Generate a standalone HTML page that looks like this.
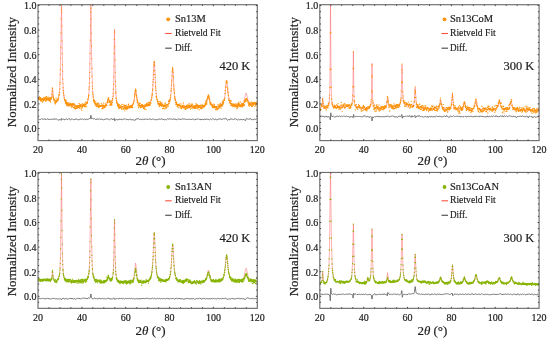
<!DOCTYPE html><html><head><meta charset="utf-8"><style>html,body{margin:0;padding:0;background:#fff;}svg{display:block;}text{font-family:"Liberation Serif",serif;fill:#1e1e1e;stroke:#1e1e1e;stroke-width:0.2px;}</style></head><body>
<svg width="550" height="341" viewBox="0 0 550 341">
<rect width="550" height="341" fill="#fff"/>
<clipPath id="c0"><rect x="38.0" y="4.7" width="219.3" height="135.9"/></clipPath>
<g clip-path="url(#c0)">
<g fill="none" stroke="#ff4a4a" stroke-opacity="0.42" stroke-width="1"><path d="M38 98.4l7.4 .6 3.6 0 1.1 .3"/><path d="M50.1 99.3l.7-.2 .6-.8 .3-1.5 .8-8.8"/><path d="M52.5 88l.7 9.2 .4 1.8 .5 1.2 .5 .6 .7 .3 .7 .1"/><path d="M56 101.2l.5-.2 1.2-1.4 .9-2.3 .5-2.9 .5-4.2 .6-12.9 1.3-71.8"/><path d="M61.5 5.5l1.2 72.9 .7 13.3 .5 4.1 .6 3.1 1.1 2.9 .8 1 1 .9 2.9 1.3 4.8 1.1"/><path d="M75.1 106.1l4.8 0 3.5-.5 2.1-1 1.4-1.6 .9-2.4 .7-3.5 .5-5.3 .4-7.3 .5-20.5 1-58.5"/><path d="M90.9 5.5l.9 61.9 .8 22 .5 6.9 .8 4.3 1.1 2.7 .7 1 1 .7 1.8 .7 2.7 .4"/><path d="M101.2 106.1l2.5 0 1.7-.5 .8-.7 .7-1.1 1.2-4.8 .3-.6"/><path d="M108.4 98.4l.3 .5 1 3.7 .7 1.1 .5 .1"/><path d="M110.9 103.8l.6-.4 .4-.8 .4-1.3 .8-5.7 .5-10.2 .9-55.6"/><path d="M114.5 29.8l.8 47.9 .6 16.6 .4 5.2 .7 3.3 .9 2 1.4 1.2 1.2 .5 1.7 .3 4.2 .2"/><path d="M126.4 107l3.7-.6 1.2-.5 .9-.6 1-1.6 .7-2.4 1.4-10.5 .3-1.2"/><path d="M135.6 89.6l.3 1.1 1.4 10.4 .7 2.3 .9 1.5 .9 .6 1.3 .4 3.8 .1"/><path d="M144.9 106l2.9-.7 1-.6 .9-.9 .8-1.4 .7-1.9 1-6 .7-9.4 1-20.1 .3-2.9"/><path d="M154.2 62.1l.4 3.6 1.1 22.6 .9 8.9 .7 3.3 .8 2.3 1.1 1.5 1.6 1 1.4 .4 1.6 .1"/><path d="M163.8 105.8l1.5-.2 1.3-.3 1-.6 .8-.8 1.2-2.5 .8-3.4 .6-5 1.3-22 .4-2.7"/><path d="M172.7 68.3l.3 3.1 1.1 19.5 .9 7.5 .6 2.8 .8 2.1 1.1 1.4 1.5 .9 2.7 .7 4.2 .3 13 .3"/><path d="M198.9 106.9l2.6-.1 1.7-.3 1.6-.9 1.1-1.6 .9-2.3 1.2-5 .4-.7"/><path d="M208.4 96l.5 .8 1.6 6.5 .8 1.6 .9 1 1.3 .8 1.8 .3"/><path d="M215.3 107l2.9-.3 2.3-.8 1.2-.8 1-1.1 .7-1.6 .6-2 .9-4.8 1.2-12.8 .5-2.2"/><path d="M226.6 80.6l.4 1.7 1.1 11.2 .8 5.3 1.1 3.5 .7 1.2 .8 .8 .9 .6 1.2 .3 3.1 .3"/><path d="M236.7 105.5l3.3-.5 1.2-.4 1-.6 1-1.2 .8-1.7 1.7-7.1 .4-1"/><path d="M246.1 93l.5 .9 1.4 6.4 .7 1.5 .7 1 1.1 .7 1.5 .4 2.1 .2"/><path d="M254.1 104.1l3.2-.2"/></g>
<path d="M38 98.4h0m.2-.4h0m.2 .8h0m.1 .9h0m.2-.6h0m.2 .7h0m.2-1.4h0m.1-1.7h0m.2 2.5h0m.2 .2h0m.2-1.5h0m.1 .2h0m.2 .4h0m.2 1.4h0m.2-1.2h0m.1-1h0m.2 2.8h0m.2-1.2h0m.2 2h0m.1-.9h0m.2 .8h0m.2-2.2h0m.2 1.5h0m.1-2.1h0m.2 .2h0m.2 .4h0m.2 3.2h0m.1-2.7h0m.2-.6h0m.2-.2h0m.2 2.2h0m.1-1.4h0m.2 .7h0m.2-.2h0m.2-2.5h0m.1 2.5h0m.2-1h0m.2-1.3h0m.2 2h0m.1-.6h0m.2-.3h0m.2 .1h0m.2 1.8h0m.1-1.8h0m.2-1.7h0m.2 3.9h0m.2-3.2h0m.1 1h0m.2 1h0m.2-3.6h0m.2 1.7h0m.1 2.7h0m.2-1.7h0m.2-.7h0m.2 1h0m.1-1.2h0m.2 1.1h0m.2-1h0m.2-1.1h0m.2 2.9h0m.1-1.2h0m.2 .9h0m.2-.8h0m.2 1.8h0m.1-.8h0m.2-.5h0m.2-1.4h0m.2-.3h0m.1 3.4h0m.2-.8h0m.2-1.9h0m.2 3.5h0m.1-2.1h0m.2-.6h0m.2-1.9h0m.2 .5h0m.1 1h0m.2-.5h0m.2-1.1h0m.2-3.6h0m.1 .4h0m.2-3h0m.2-3.1h0m.2 .6h0m.1 2.6h0m.2 4h0m.2 .9h0m.2 2.1h0m.1-1.1h0m.2 1.3h0m.2 1.4h0m.2-.6h0m.1 1.7h0m.2-1.7h0m.2 1.6h0m.2-.7h0m.1 2.7h0m.2-2.1h0m.2 2.8h0m.2 .5h0m.1-2.3h0m.2 .8h0m.2-1.4h0m.2-2.8h0m.1 4.1h0m.2-.4h0m.2-1.2h0m.2-.6h0m.1 .8h0m.2-.2h0m.2-1.3h0m.2 0h0m.1 1.7h0m.2-1.5h0m.2-.6h0m.2 1h0m.2-2.2h0m.1 .8h0m.2-2.9h0m.2 .1h0m.2-.9h0m.1-.5h0m.2-2.1h0m.2 .1h0m.2-3.5h0m.1-4.6h0m.2-1.8h0m.2-8.1h0m.2-4.9h0m.1-11.2h0m.2-10.6h0m.2-14.9h0m.2-13.9h0m.1-9.8h0m.2-3.9h0m.2 7h0m.2 14h0m.1 14.6h0m.2 12.9h0m.2 11.1h0m.2 6.5h0m.1 7.6h0m.2 4.4h0m.2 4.4h0m.2 2.7h0m.1 2.9h0m.2-1h0m.2 3.1h0m.2-.1h0m.1 2.1h0m.2 1.7h0m.2 .3h0m.2 .9h0m.1-.2h0m.2 .9h0m.2 .3h0m.2 1.8h0m.1-.4h0m.2-2.9h0m.2 3.3h0m.2 .7h0m.1-1.6h0m.2-1.2h0m.2 3.9h0m.2-1.5h0m.1 .8h0m.2 1.6h0m.2-3.2h0m.2 1.1h0m.1 0h0m.2 1.2h0m.2-1.5h0m.2 1.4h0m.2-.4h0m.1 1.4h0m.2 .2h0m.2-3.3h0m.2 2.5h0m.1-1h0m.2 .5h0m.2 .6h0m.2 .2h0m.1-1.5h0m.2 1.3h0m.2-.1h0m.2-.2h0m.1-1.5h0m.2 .7h0m.2 .5h0m.2 1.3h0m.1 1.2h0m.2-3.2h0m.2 .1h0m.2 1.5h0m.1-.9h0m.2-.2h0m.2-.1h0m.2-.1h0m.1 2h0m.2-2.7h0m.2 3.8h0m.2-2.8h0m.1 .5h0m.2-.5h0m.2-1.3h0m.2 .6h0m.1 3.6h0m.2 .8h0m.2-3.4h0m.2 2.5h0m.1-1.3h0m.2-1.1h0m.2 3.4h0m.2 .6h0m.1-3.2h0m.2 .3h0m.2 .4h0m.2-.4h0m.1 1.2h0m.2 .9h0m.2-1.8h0m.2 1.1h0m.1 .9h0m.2-2.9h0m.2 .8h0m.2-.7h0m.1 1.9h0m.2-.4h0m.2 .4h0m.2-.1h0m.2-1.5h0m.1 1.3h0m.2-1.5h0m.2 0h0m.2-2.3h0m.1 4.6h0m.2-3.1h0m.2 1.3h0m.2-.1h0m.1 1.9h0m.2-1.3h0m.2-1.7h0m.2 1.2h0m.1-.3h0m.2 .5h0m.2-2h0m.2 1.6h0m.1 2.9h0m.2-2h0m.2 1.7h0m.2 1.7h0m.1-3.7h0m.2-2.6h0m.2 1.7h0m.2 1.6h0m.1-.3h0m.2-2.8h0m.2 1.2h0m.2 .1h0m.1 .1h0m.2-.1h0m.2-1.1h0m.2 .3h0m.1 .4h0m.2 1.6h0m.2-2.2h0m.2 1.5h0m.1-2.4h0m.2 3h0m.2-1.6h0m.2-.3h0m.1 1.6h0m.2-4.1h0m.2 .2h0m.2 2.3h0m.1-1.8h0m.2 .3h0m.2 3.6h0m.2-3.9h0m.1 0h0m.2-.5h0m.2 1h0m.2-1.4h0m.1-.7h0m.2-2.2h0m.2 .3h0m.2-.5h0m.2-2.8h0m.1 1.1h0m.2-1.7h0m.2-.5h0m.2-5.8h0m.1-2.3h0m.2-3.8h0m.2-4.7h0m.2-6h0m.1-8.6h0m.2-10.4h0m.2-13.2h0m.2-14.6h0m.1-13.6h0m.2-6.4h0m.2 2.7h0m.2 10.8h0m.1 14.2h0m.2 12.7h0m.2 12.6h0m.2 9.8h0m.1 7.8h0m.2 6.4h0m.2 3.5h0m.2 2.5h0m.1 3.9h0m.2 1.9h0m.2 1.7h0m.2 1.1h0m.1 3h0m.2-.6h0m.2 1.6h0m.2-1.4h0m.1 2.6h0m.2-1.2h0m.2-.7h0m.2 2.6h0m.1 .7h0m.2-.7h0m.2 .5h0m.2 1.5h0m.1-1.6h0m.2-1.8h0m.2 3.1h0m.2 0h0m.1 1.3h0m.2-1.7h0m.2 2.2h0m.2-.1h0m.1-3h0m.2 2.9h0m.2-2.5h0m.2-.5h0m.1 1.7h0m.2-.3h0m.2-1.8h0m.2 2.9h0m.2 .6h0m.1 1h0m.2-1.8h0m.2-1.9h0m.2 .7h0m.1 2.6h0m.2 0h0m.2-.5h0m.2-1h0m.1 .7h0m.2-.6h0m.2-.1h0m.2 .8h0m.1-.3h0m.2-.3h0m.2 .4h0m.2-.8h0m.1-1.8h0m.2 1.7h0m.2 .7h0m.2 2.4h0m.1-2.8h0m.2 3.2h0m.2-.8h0m.2-3h0m.1 .2h0m.2 1.1h0m.2 2.1h0m.2-1.8h0m.1 .4h0m.2-1.8h0m.2-2.2h0m.2 2.7h0m.1 1.3h0m.2 .5h0m.2-1.5h0m.2 .1h0m.1 1.3h0m.2-1.8h0m.2 1.6h0m.2-3.1h0m.1 0h0m.2-.2h0m.2 2h0m.2-1.5h0m.1 .6h0m.2 .1h0m.2-.3h0m.2 .9h0m.1-.3h0m.2-3.3h0m.2 .6h0m.2-1.2h0m.1-1.7h0m.2 2.4h0m.2-1.9h0m.2-1.8h0m.2-.5h0m.1 .9h0m.2-1.2h0m.2 1.6h0m.2 2.4h0m.1 .5h0m.2-1.4h0m.2 .9h0m.2 3.4h0m.1-3.6h0m.2 1.2h0m.2-.8h0m.2 2.3h0m.1 0h0m.2 1.1h0m.2-4.7h0m.2 3.4h0m.1-2.4h0m.2 2.6h0m.2-1.3h0m.2 2h0m.1-2.1h0m.2-2.2h0m.2 2h0m.2-3.6h0m.1-.3h0m.2 .1h0m.2-2.6h0m.2-2.8h0m.1-4.2h0m.2-4.8h0m.2-7.3h0m.2-10.8h0m.1-12.9h0m.2-14h0m.2-9.2h0m.2 2.6h0m.1 13.7h0m.2 13.4h0m.2 12.4h0m.2 9.2h0m.1 4.7h0m.2 5.8h0m.2 1.1h0m.2 4.8h0m.1 .5h0m.2 2h0m.2 1.7h0m.2-.8h0m.1 1.6h0m.2-.4h0m.2 1.3h0m.2 1.7h0m.1-.9h0m.2 .1h0m.2-1h0m.2 2.7h0m.2-1h0m.1 2.4h0m.2-3h0m.2 2.4h0m.2 1.1h0m.1-2.2h0m.2-1.5h0m.2 3.6h0m.2-.5h0m.1-.4h0m.2 .6h0m.2-2h0m.2 1.7h0m.1-.1h0m.2-1.7h0m.2 1.8h0m.2-1.5h0m.1 1.9h0m.2 .3h0m.2 .9h0m.2-4.9h0m.1 2.9h0m.2-.7h0m.2 .4h0m.2-.3h0m.1 .2h0m.2-2.5h0m.2 4h0m.2 .7h0m.1-.7h0m.2 .5h0m.2-2.8h0m.2-.1h0m.1 2.4h0m.2 .6h0m.2-1.4h0m.2-2.4h0m.1 5.7h0m.2-4.5h0m.2 2.2h0m.2-2.9h0m.1 2.9h0m.2-1.1h0m.2 1.6h0m.2-.7h0m.1-3.2h0m.2 .7h0m.2 1.7h0m.2 .6h0m.1 1.4h0m.2-2.1h0m.2-.5h0m.2 .1h0m.1 0h0m.2 1.4h0m.2-1.5h0m.2 0h0m.2-1.9h0m.1-.8h0m.2 2.7h0m.2 .8h0m.2-.9h0m.1 .7h0m.2 .1h0m.2-1h0m.2 1.3h0m.1-2.2h0m.2 .9h0m.2-.6h0m.2 .6h0m.1 .6h0m.2 .2h0m.2-1h0m.2 .3h0m.1-1.1h0m.2 .2h0m.2 1.7h0m.2-2h0m.1 1.7h0m.2-1.2h0m.2-.6h0m.2 2.1h0m.1-3.1h0m.2-.3h0m.2 0h0m.2-.1h0m.1-.5h0m.2 .1h0m.2-1.5h0m.2-.5h0m.1-1.8h0m.2 .4h0m.2-3h0m.2-1.3h0m.1-1.4h0m.2-1.3h0m.2-2.5h0m.2 1h0m.1-2.6h0m.2 .4h0m.2 .8h0m.2 1.2h0m.1 2.7h0m.2 1.2h0m.2 .6h0m.2 1.6h0m.1 1.4h0m.2 3.1h0m.2-1.6h0m.2 0h0m.1 .8h0m.2 1.5h0m.2 2.6h0m.2-2.8h0m.2 1.7h0m.1 3.4h0m.2-3.5h0m.2 2.6h0m.2-.1h0m.1-.7h0m.2-2.4h0m.2 2.3h0m.2-.8h0m.1-1.9h0m.2 .3h0m.2 2.3h0m.2 .3h0m.1 1.4h0m.2-.7h0m.2-1.5h0m.2 .1h0m.1 .4h0m.2-1.2h0m.2 2.4h0m.2-.9h0m.1-1.1h0m.2 .2h0m.2-.6h0m.2 .9h0m.1 1h0m.2-.9h0m.2 1.8h0m.2 .9h0m.1-3h0m.2 .8h0m.2-.5h0m.2 2.7h0m.1-1.8h0m.2 .3h0m.2 .4h0m.2 1.8h0m.1-2.6h0m.2-1.7h0m.2 .7h0m.2 1.3h0m.1-.8h0m.2-1.1h0m.2 4.7h0m.2-3.5h0m.1-1h0m.2-.2h0m.2-1.4h0m.2 .7h0m.1 1.1h0m.2-.1h0m.2-.7h0m.2 1.7h0m.1-.7h0m.2-1.3h0m.2-1.5h0m.2 2.7h0m.2-.3h0m.1-.4h0m.2-1.6h0m.2 1.7h0m.2-2.1h0m.1 3h0m.2-1.2h0m.2-.2h0m.2-1.5h0m.1-.5h0m.2 2.9h0m.2-1h0m.2-2h0m.1 .9h0m.2 .6h0m.2-3.6h0m.2 .1h0m.1-.7h0m.2 .4h0m.2-2.7h0m.2 .4h0m.1-2.7h0m.2 .7h0m.2-1.8h0m.2-3.2h0m.1-1.5h0m.2-4.1h0m.2-2.9h0m.2-2.6h0m.1-4.8h0m.2-3.7h0m.2-4.6h0m.2-1.9h0m.1-1.7h0m.2-1.2h0m.2 .9h0m.2 3h0m.1 5.2h0m.2 3.9h0m.2 2.8h0m.2 5.1h0m.1 4h0m.2 1.8h0m.2 2.1h0m.2 3.3h0m.1 2.7h0m.2 1.2h0m.2-1h0m.2 2.7h0m.1 .2h0m.2 .3h0m.2 .2h0m.2 1.7h0m.2-.5h0m.1 2.2h0m.2-.3h0m.2 1.2h0m.2-2.4h0m.1 1.7h0m.2 1.2h0m.2-.3h0m.2 0h0m.1-1h0m.2 3.1h0m.2-.5h0m.2-.8h0m.1-3.7h0m.2 2.2h0m.2 1.5h0m.2-1h0m.1-1.7h0m.2 3.1h0m.2 .2h0m.2-2h0m.1 1h0m.2-.2h0m.2 1.6h0m.2-3.2h0m.1 .3h0m.2 1.6h0m.2-.1h0m.2 3.7h0m.1-3.6h0m.2 1.1h0m.2-.8h0m.2-.3h0m.1 1.4h0m.2 1.8h0m.2-2.8h0m.2 1.5h0m.1-.6h0m.2 .4h0m.2-.4h0m.2 2.7h0m.1-4.8h0m.2 1.3h0m.2-1.2h0m.2-1.2h0m.1 2.6h0m.2 2.4h0m.2-1.3h0m.2 .4h0m.1-1h0m.2-.9h0m.2 2.7h0m.2-3.2h0m.1 2.4h0m.2-2.5h0m.2 .4h0m.2 .2h0m.2-.5h0m.1 .5h0m.2-.1h0m.2 1.2h0m.2-2.3h0m.1-2.7h0m.2-.4h0m.2 .6h0m.2 .4h0m.1 1.4h0m.2-3.1h0m.2 1.4h0m.2-.6h0m.1-.4h0m.2-1.2h0m.2-.3h0m.2-1.5h0m.1-.2h0m.2-2.3h0m.2-4.5h0m.2 .3h0m.1-2.2h0m.2-3.5h0m.2-3.3h0m.2-1.8h0m.1-4.3h0m.2-4.1h0m.2-2h0m.2-1.3h0m.1-1.1h0m.2 3.1h0m.2 2h0m.2 3.7h0m.1 1.8h0m.2 6.4h0m.2 2h0m.2 2.7h0m.1 1.2h0m.2 2.2h0m.2 .9h0m.2 4.7h0m.1-1.3h0m.2 2.2h0m.2 1.4h0m.2-.6h0m.1 2.4h0m.2 2h0m.2-1.6h0m.2 1.9h0m.1-.7h0m.2-.9h0m.2 .3h0m.2-1.3h0m.1 2.5h0m.2 1.9h0m.2-.8h0m.2 .4h0m.2 .5h0m.1-2h0m.2 1.6h0m.2 1.8h0m.2-3.4h0m.1 1.2h0m.2-.5h0m.2 .4h0m.2-.6h0m.1 .8h0m.2-1.5h0m.2 1.1h0m.2 .1h0m.1 0h0m.2 2.6h0m.2-1.7h0m.2 .2h0m.1-.6h0m.2 2.1h0m.2-4h0m.2 2.1h0m.1 1.8h0m.2 .7h0m.2-1.9h0m.2-.2h0m.1 .9h0m.2-1.1h0m.2 1h0m.2-1.6h0m.1 1.8h0m.2-.9h0m.2-1.4h0m.2-2.1h0m.1 4.8h0m.2-.7h0m.2 .5h0m.2-2.2h0m.1 2.7h0m.2-.9h0m.2-.6h0m.2 1.3h0m.1-.1h0m.2-.6h0m.2 2.2h0m.2-.9h0m.1-1.4h0m.2-.7h0m.2 .4h0m.2 2.2h0m.1-1.8h0m.2-1.7h0m.2 .4h0m.2 .8h0m.1 1.1h0m.2-2h0m.2 1.6h0m.2 .8h0m.2-.5h0m.1-3h0m.2 1.6h0m.2-1.2h0m.2 2.2h0m.1-1.9h0m.2 2.1h0m.2-.6h0m.2-3.6h0m.1 2.3h0m.2 1.7h0m.2-.5h0m.2-.6h0m.1-1.2h0m.2 2.3h0m.2 1.7h0m.2-2h0m.1-.4h0m.2-.1h0m.2-1.6h0m.2 1.3h0m.1-.6h0m.2 2.5h0m.2-2.6h0m.2-1.7h0m.1 1.8h0m.2 .8h0m.2 .1h0m.2-2.2h0m.1 3.7h0m.2-1.1h0m.2-.8h0m.2-.3h0m.1 1.6h0m.2-1h0m.2 .8h0m.2-.6h0m.1 .4h0m.2 1.4h0m.2-1.5h0m.2-1.3h0m.1 2.6h0m.2-1h0m.2-1.3h0m.2 2.4h0m.1-1.7h0m.2 1.7h0m.2-3h0m.2-1.6h0m.1 .4h0m.2 3.1h0m.2-1.3h0m.2 .8h0m.1 .1h0m.2-2h0m.2 3.9h0m.2-3.2h0m.2 1.5h0m.1-2h0m.2 1.7h0m.2 1.2h0m.2-1.3h0m.1-.7h0m.2 1h0m.2-.6h0m.2 1.3h0m.1 2.2h0m.2-4.1h0m.2 .3h0m.2 .7h0m.1 .1h0m.2-1.3h0m.2 2h0m.2 .4h0m.1-.8h0m.2-1.8h0m.2 3.4h0m.2-3.5h0m.1 2.5h0m.2 .6h0m.2-3.2h0m.2 1.8h0m.1 1.6h0m.2-1.3h0m.2-1.8h0m.2-.4h0m.1 2.2h0m.2-1.2h0m.2-.5h0m.2 1.8h0m.1-1.4h0m.2 .5h0m.2 .6h0m.2-.2h0m.1-.8h0m.2-.1h0m.2 .7h0m.2-.3h0m.1-2.2h0m.2 1h0m.2-1.1h0m.2-.6h0m.1 .6h0m.2-2.5h0m.2 3.6h0m.2-2.4h0m.1 1h0m.2-3.1h0m.2-.4h0m.2 3.8h0m.1-1.8h0m.2-2.7h0m.2-.9h0m.2-.7h0m.2 .1h0m.1-1.3h0m.2-.8h0m.2 .3h0m.2-1.3h0m.1 3.5h0m.2-2.7h0m.2 2.3h0m.2-1.5h0m.1 2.1h0m.2 1.6h0m.2-.7h0m.2 2.3h0m.1 .7h0m.2 1.5h0m.2-1.3h0m.2-.1h0m.1-.2h0m.2 1.8h0m.2-1.1h0m.2 1.6h0m.1 .4h0m.2-.6h0m.2-.4h0m.2 2h0m.1 0h0m.2 .1h0m.2-.2h0m.2 1.4h0m.1-2.5h0m.2 2h0m.2-1h0m.2 1.8h0m.1-1.5h0m.2 0h0m.2 1.1h0m.2-3.2h0m.1 2.3h0m.2-1.9h0m.2 1.2h0m.2 2.2h0m.1-.4h0m.2-1.1h0m.2 .6h0m.2 0h0m.1 .4h0m.2 2.1h0m.2-2.2h0m.2 2.7h0m.1-3.5h0m.2 1.5h0m.2 0h0m.2-.7h0m.1-.7h0m.2 2.3h0m.2 .4h0m.2-1h0m.2 1.3h0m.1-1.5h0m.2-3.5h0m.2 3.6h0m.2-2.4h0m.1 2.7h0m.2-2.3h0m.2 .8h0m.2-.4h0m.1-.9h0m.2-1.6h0m.2 2h0m.2 0h0m.1 1.4h0m.2-2.1h0m.2 1h0m.2-1.5h0m.1 1h0m.2-2.4h0m.2 4.8h0m.2-2.4h0m.1-1.6h0m.2 1.4h0m.2 .5h0m.2-.9h0m.1 1.3h0m.2-2.2h0m.2-3.2h0m.2 1.5h0m.1 2.5h0m.2-.6h0m.2-.9h0m.2-2.1h0m.1 1.8h0m.2-.7h0m.2-2.5h0m.2-.6h0m.1 .8h0m.2 0h0m.2-.6h0m.2-2h0m.1 .4h0m.2-4.6h0m.2-.2h0m.2-2.9h0m.1-3.2h0m.2-1.2h0m.2 .2h0m.2-3.7h0m.1-1.7h0m.2 .7h0m.2-.2h0m.2-.4h0m.1 2.3h0m.2-1.3h0m.2 5.3h0m.2 .8h0m.2 1.1h0m.1 1.9h0m.2 1.3h0m.2 1.4h0m.2 1.9h0m.1-.2h0m.2 4.7h0m.2-1.5h0m.2 1.7h0m.1-.3h0m.2 .5h0m.2 1.9h0m.2 .2h0m.1-1.4h0m.2 .9h0m.2 1.6h0m.2-3.1h0m.1-.1h0m.2 5h0m.2-2.1h0m.2-2.6h0m.1 2.4h0m.2 .8h0m.2 .7h0m.2 .6h0m.1-.4h0m.2 .6h0m.2-1.7h0m.2 1.6h0m.1 .2h0m.2 1h0m.2-1.4h0m.2 1.1h0m.1-.9h0m.2-1.6h0m.2 1h0m.2-.2h0m.1 .3h0m.2 .4h0m.2 .3h0m.2 .2h0m.1-1.4h0m.2 2.5h0m.2-3.2h0m.2 1.7h0m.1 1.1h0m.2-.3h0m.2 .2h0m.2-1.1h0m.1 1.2h0m.2-2.5h0m.2 2.6h0m.2 2h0m.1-2.1h0m.2 1.8h0m.2-2.7h0m.2-1.5h0m.2 .5h0m.1 2.7h0m.2-.8h0m.2-3.4h0m.2 1.9h0m.1 .4h0m.2-1.4h0m.2-1.9h0m.2 1.5h0m.1 1.6h0m.2-.3h0m.2-.4h0m.2 1.6h0m.1 .6h0m.2-1.5h0m.2 1.3h0m.2-1.2h0m.1-.3h0m.2-3.1h0m.2 4.3h0m.2-1h0m.1 0h0m.2-.9h0m.2-.8h0m.2 2h0m.1 .4h0m.2 1h0m.2-1.1h0m.2-2h0m.1 .6h0m.2 1.3h0m.2-1h0m.2-.7h0m.1-.8h0m.2 1.3h0m.2-.7h0m.2 1.8h0m.1-1.1h0m.2-3.9h0m.2 4.5h0m.2-2.8h0m.1-1.1h0m.2 .2h0m.2 0h0m.2-1.4h0m.1-.6h0m.2-.4h0m.2 1.8h0m.2-2.2h0m.1 .9h0m.2-.2h0m.2-.5h0m.2-.1h0m.1 .2h0m.2 2.2h0m.2-1.2h0m.2 .1h0m.2 .4h0m.1 0h0m.2 2.3h0m.2 .3h0m.2-1.1h0m.1 3.1h0m.2-1.9h0m.2 1.1h0m.2-.1h0m.1 1.9h0m.2-1h0m.2-1.1h0m.2-1.2h0m.1 0h0m.2 1.4h0m.2 .2h0m.2 .9h0m.1-1.6h0m.2 .9h0m.2-1.2h0m.2-1.5h0m.1 2.4h0m.2 2h0m.2-.8h0m.2 .8h0m.1-.4h0m.2-3.3h0m.2 1.4h0m.2 2.4h0m.1-3h0m.2-.8h0m.2 2.2h0m.2 .4h0m.1-.4h0m.2-.9h0m.2-.5h0m.2-.7h0m.1-.1h0m.2 .1h0m.2-.3h0m.2 1h0m.1 2.9h0m.2-1.9h0m.2-.6h0m.2 .9h0m.1-1.7h0m.2 1.7h0m.2 .7h0m.2-3.2h0m.1 1h0m.2 .6h0m.2-.9h0m.2-.2h0m.1 .9h0m.2 3.8h0m.2-2.4h0" fill="none" stroke="#fc9209" stroke-width="1.3" stroke-linecap="round"/>
<path d="M38 119.3l.7-.1 .6 .3 .5-.2 .6 .1 .7-.1 .6-.6 .7 .5 .9-.3 .4 .5 .2 0 .7-.6 .4-.1 .7 1.1 .2 0 .9-.9 .4-.2 .9 .7 .9-.2 .2 .3 .4 0 .5-.4 .6 .3 .2-.1 .5 .1 .4 .5 .7-.9 .6 .2 .5-.3 .4 .5 .2 0 .5-.8 .2-.1 .6 .8 .5 .2 .6-.5 .9 .7 1.3 .5 .5-.2 .2-.5 .4-.3 1.3 1.2 .5-2 .9 1 .8-.2 .7 .4 .9 .2 .6-.8 .3 .2 .8-.3 .9 .7 .2 0 .7-.8 .2-.1 .2 .2 .5-.3 .2 .2 .4 .8 .5 .5 .6-.4 .7-.9 .2-.1 .6 .6 .7 .3 .4 0 .5-.5 .6 .7 .3-.1 .6-1 .7 .5 .9-.1 .8 .8 .5 0 .6-.4 .7 .2 .6-.9 .3 0 1.1 .7 .6-.6 1.1 .8 .9-.9 .4 0 .7 1 .6-.5 .9 .3 .7-.4 .6 .2 .9-1.1 .7 .7 .2-.1 .2-.6 .5-3 .6 3.3 .4 .4 .7-.6 .7 .4 .6 0 .7-.1 1.1 .9 .2 0 1.1-.4 .2-.4 .2 0 .5 .4 .6 .1 .7-.4 .2 .2 1.1 .2 .4-.2 .5 .2 .6-.2 .9 .4 .5 .4 .2 0 .4-.5 .7 0 .4-.5 .2 0 .5 .4 .6-.4 .5 .4 .6-.2 .5 .3 .6-.2 .9 .6 .9-.8 .8-.3 1.8 1 .7-.5 .4-.8 .2-.1 .5 2.5 .2 0 .6-1.2 .7-.2 .6 0 .9 .6 2.2-1 .7 .5 1.3-.3 .6 .5 .7-.6 .7 .4 .8-.8 .5 .1 .6 .7 .9 .2 .7-.2 .9 .2 .6-.3 .4 .2 1.1-.6 .5 .2 .6 .9 .7-.5 .7 .3 .6 0 .7 .4 .6-.3 .5 .1 .6-1.2 .5 0 .2 .1 1.5-.3 .7 .2 .6 .6 .9-.3 .7 .5 .4-.3 .7 .4 .2-.3 .4-.1 .2 .1 .3-.2 .6 0 .5-.1 .6 .4 .5-.6 .6 .4 .5-.5 .2-.1 .9 1 .8-.9 .2 .2 .7-.2 .4 .3 1.1 .1 .7 .3 .7-.5 .2 0 .4 .2 .7-.3 1.1 .7 .6-.1 .7 .4 .6-.4 .7 .1 2-.7 1.1 .3 .8-.5 .9 .5 .5-.2 .2 0 1.5 .7 .7-.3 .6-.1 .7 .4 .6-.3 .7-.7 .7 .5 .6-.4 .5-.1 1.3 .3 .6-.2 1.1 .2 .5 .5 .2 0 .4-.7 .7 .4 .6-.4 1.4 .8 1.1-.3 .6-.6 .9 .5 .9-.2 1.3 .5 .4-.1 .7-.7 .9 0 .6 .3 .5-.3 .4 .1 .2 .3 .5 .1 .2-.2 .8 0 .3 .4 .4 .2 .4-.2 .7 .1 .4-.3 .3 0 .2 .2 .6-.1 .3 .2 1.1-.3 .6 .2 .7-.4 .2-.1 .4 .3 .5-.3 .2 .1 .6 .7 .5 0 .4 0 .9-.6 .4-.1 .5 .2 .4-.2 .7 .2 .6-.6 .9 .9 .7-.7 .6 .9 1.3-.4 .5 0 .6 .4 1.1-.5 .7 0 .2-.3 .2 .1 .5 .6 .6-.9 .7 .5 .4 .1 .7-.2 .9 .6 .4 0 .9-.8 .8 .7 .5-.2 .9-.7 .6 .1 .2-.1 .5 .2 .2 .4 .4 .3 .7-.6 1.1 .7 .6-.2 .9 0 .2-.3 .5-.3 .6 .3 .5-.3 .4 .2 .7-.4 .2 .3 .7 .1 .4 .5 .7-.8 .2 .1 .6-.3 1.1 .3 .5-.1 .6-.8 .5 .3 .6 1.3 .9 .5 .4-.1 .7-.7 .4 .2 .2 .4 .3-.1 .6-1 .7 .5 .6-.4 .7 .3 .4-.2 .7 .5 1.5-.7 .9-.1 1.8 1.2 1.1-.8 .8 .6 .7-.2 .7 .1 .6-.8 .7 1.1 .2 .1 .4-.4 1.1-.3 .9 .6 .7 .7 .6-1.8 .5-.4 .6 .5 .7-.1 .2 .2 .4 .1 .9-.2 .7 .2 .4-.7 .2 .1 .7 1 .6-.2 .7 .4 1.1-.5 .4 .3 .7-.8 .6 .6 .7-.5 1.1 0" fill="none" stroke="#666" stroke-width="0.9"/>
</g>
<rect x="38.0" y="4.7" width="219.3" height="135.9" fill="none" stroke="#6e6e6e" stroke-width="1.15"/>
<path d="M49 140.60v-1.2M49 4.70v1.2M59.9 140.60v-1.2M59.9 4.70v1.2M70.9 140.60v-1.2M70.9 4.70v1.2M81.9 140.60v-1.5M81.9 4.70v1.5M92.8 140.60v-1.2M92.8 4.70v1.2M103.8 140.60v-1.2M103.8 4.70v1.2M114.8 140.60v-1.2M114.8 4.70v1.2M125.7 140.60v-1.5M125.7 4.70v1.5M136.7 140.60v-1.2M136.7 4.70v1.2M147.7 140.60v-1.2M147.7 4.70v1.2M158.6 140.60v-1.2M158.6 4.70v1.2M169.6 140.60v-1.5M169.6 4.70v1.5M180.5 140.60v-1.2M180.5 4.70v1.2M191.5 140.60v-1.2M191.5 4.70v1.2M202.5 140.60v-1.2M202.5 4.70v1.2M213.4 140.60v-1.5M213.4 4.70v1.5M224.4 140.60v-1.2M224.4 4.70v1.2M235.4 140.60v-1.2M235.4 4.70v1.2M246.3 140.60v-1.2M246.3 4.70v1.2M38.00 134.7h1.2M257.30 134.7h-1.2M38.00 128.5h1.5M257.30 128.5h-1.5M38.00 122.4h1.2M257.30 122.4h-1.2M38.00 116.2h1.2M257.30 116.2h-1.2M38.00 110.1h1.2M257.30 110.1h-1.2M38.00 103.9h1.5M257.30 103.9h-1.5M38.00 97.8h1.2M257.30 97.8h-1.2M38.00 91.6h1.2M257.30 91.6h-1.2M38.00 85.5h1.2M257.30 85.5h-1.2M38.00 79.3h1.5M257.30 79.3h-1.5M38.00 73.2h1.2M257.30 73.2h-1.2M38.00 67h1.2M257.30 67h-1.2M38.00 60.9h1.2M257.30 60.9h-1.2M38.00 54.7h1.5M257.30 54.7h-1.5M38.00 48.6h1.2M257.30 48.6h-1.2M38.00 42.4h1.2M257.30 42.4h-1.2M38.00 36.3h1.2M257.30 36.3h-1.2M38.00 30.1h1.5M257.30 30.1h-1.5M38.00 24h1.2M257.30 24h-1.2M38.00 17.8h1.2M257.30 17.8h-1.2M38.00 11.7h1.2M257.30 11.7h-1.2M38.00 5.5h1.5M257.30 5.5h-1.5" stroke="#3a3a3a" stroke-width="0.9" fill="none"/>
<circle cx="168.2" cy="19.3" r="1.9" fill="#fc9209"/>
<path d="M165.2 33.5h6.5" stroke="#f8533f" stroke-width="1.1"/>
<path d="M165.2 48.2h6.5" stroke="#555555" stroke-width="1.2"/>
<clipPath id="c1"><rect x="319.8" y="4.7" width="219.3" height="135.9"/></clipPath>
<g clip-path="url(#c1)">
<g fill="none" stroke="#ff4a4a" stroke-opacity="0.42" stroke-width="1"><path d="M319.8 108.3l1.4-.6 .6-1.2 .4-2.3 .5-6.4"/><path d="M322.7 97.8l.6 7.7 .4 1.3 .6 .7 .8 .1"/><path d="M325.1 107.6l1.2-.1 .9-.4 .7-.7 .9-1.9 .5-3.3 .4-8.1 .3-15.3 .5-78.4"/><path d="M330.5 -.6l.5 69.6 .4 24 .3 6.5 .4 3.8 .7 2.3 .5 .6 .6 .5 1.3 .4 2.1 .2"/><path d="M337.3 107.3l8.8-1.5"/><path d="M346.1 105.8l3.8 .2"/><path d="M349.9 106l1.2-.5 .7-1.1 .6-3.4 .4-7.1 .6-42.8"/><path d="M353.4 51.1l.4 37.2 .4 12.1 .4 3.1 .5 1.9 .9 1.1 1.4 .7 5.2 1.1"/><path d="M362.6 108.3l4.7-.2 1.4-.2 .9-.3 .6-.6 .4-.9 .5-3.1 .3-5.7 .6-33.9"/><path d="M372 63.4l.4 28.8 .4 9.7 .3 2.7 .4 1.8 .6 1 1.1 .5 1.8 .3 3.1 .1"/><path d="M380.1 108.3l3.9-.6 1.7-.8 .6-.9 .4-1.4 .9-7.5"/><path d="M387.6 97.1l.8 7.3 .5 1.4 .6 .7 .8 .2 1.2 .1"/><path d="M391.5 106.8l5-.6 2.1-.6 1.2-1.1 .5-1.2 .3-1.6 .6-5.4 .8-31.7"/><path d="M402 64.6l.7 25.2 .4 8.9 .3 2.8 .5 1.7 .7 1.1 .9 .6 6 .8"/><path d="M411.5 105.7l1.3-.3 .7-.8 .5-1.5 .4-2.5 .8-13.1"/><path d="M415.2 87.5l.8 12.9 .6 4.2 .6 1.1 .9 .8 1.5 .6 2.4 .5 11.8 1.3"/><path d="M433.8 108.9l2.4-.1 1.5-.4 .9-.7 .7-1.3 1.3-6.9"/><path d="M440.6 99.5l1.2 6.4 .5 1.4 .6 .9 1.1 .7 1.9 .3"/><path d="M445.9 109.2l2.1 0 1.5-.4 1.1-1 .7-2 1.2-11.8"/><path d="M452.5 94l.8 9.1 .5 3.2 .3 1.1 .5 .8 .7 .5 1 .3 4 .1"/><path d="M460.3 109.1l1.1-.2 .8-.5 .5-.7 .5-1 1.1-5.2"/><path d="M464.3 101.5l1.2 5.4 .4 1.1 .6 .7 1.2 .7 1.8 .3"/><path d="M469.5 109.7l1.7-.1 1.5-.4 1-.8 .7-1.4 1.5-7"/><path d="M475.9 100l.3 .7 1.2 6.2 .7 1.3 1 .8 1.4 .3 2 .2"/><path d="M482.5 109.5l12.7-.6 1.4-.6 1-1.3 .6-1.6 .9-4.6 .3-.8"/><path d="M499.4 100l.3 .8 .9 4.7 .6 1.7 1 1.3 1.5 .8 1.4 .2"/><path d="M505.1 109.5l1.6-.1 1.2-.4 .8-.6 1-2 1-4.9 .3-.6"/><path d="M511 100.9l.3 .6 .8 4.1 .7 1.9 .8 1.2 1.3 .8 1.9 .3 3.3 .3 19 .2"/></g>
<path d="M319.8 109.4h0m.2-1.3h0m.2 .4h0m.3 1h0m.2 .8h0m.2-1h0m.2-3.7h0m.2-.9h0m.3 1.6h0m.2-1.3h0m.2 1.4h0m.2-2.6h0m.2-3.8h0m.3-.9h0m.2 2.4h0m.2 2h0m.2 2.5h0m.2 2h0m.2-1.6h0m.3 1.3h0m.2-1.8h0m.2 1.6h0m.2 .5h0m.2-.6h0m.3 .5h0m.2 .7h0m.2-.4h0m.2-1.7h0m.2 .1h0m.3-1h0m.2 4.3h0m.2-2h0m.2 0h0m.2-1h0m.3 .8h0m.2-.1h0m.2-2.1h0m.2 .7h0m.2 1.6h0m.3-4h0m.2 0h0m.2 1.4h0m.2-2.9h0m.2 .4h0m.2-4.8h0m.3-2.7h0m.2-7.7h0m.2-18.1h0m.2-36.3h0m.2-33.8h0m.3 33.2h0m.2 36.5h0m.2 18.2h0m.2 11.7h0m.2 .1h0m.3 5.1h0m.2-1.2h0m.2-.2h0m.2 1.9h0m.2 1.4h0m.3 .1h0m.2 .2h0m.2 .9h0m.2 .2h0m.2 .6h0m.3-2.9h0m.2 1.8h0m.2-1.3h0m.2 1.8h0m.2-.4h0m.3 .4h0m.2-.9h0m.2-.5h0m.2 .8h0m.2 1.4h0m.2 .2h0m.3-3.6h0m.2 2.9h0m.2 0h0m.2-2.6h0m.2 .6h0m.3 .8h0m.2 1.3h0m.2-4.1h0m.2 2.9h0m.2-.3h0m.3 1.1h0m.2 1.8h0m.2-.2h0m.2-2.6h0m.2 0h0m.3 .9h0m.2 1.3h0m.2 .4h0m.2-1.7h0m.2 1.6h0m.3-3.5h0m.2-.4h0m.2-2.5h0m.2 2.8h0m.2 2.2h0m.2 .4h0m.3 3.7h0m.2-4.2h0m.2-.7h0m.2-1.7h0m.2 .5h0m.3 0h0m.2 .5h0m.2-.7h0m.2-1.2h0m.2 3.7h0m.3-1h0m.2 1.3h0m.2-4.4h0m.2 .4h0m.2 .8h0m.3 2.8h0m.2-2.1h0m.2 .6h0m.2-.5h0m.2 .4h0m.3-1h0m.2 1.4h0m.2-1.9h0m.2 1h0m.2 .8h0m.3-.3h0m.2 .5h0m.2-1.8h0m.2 1.6h0m.2-.8h0m.2 1h0m.3 1.6h0m.2-3.5h0m.2 2.9h0m.2-2.6h0m.2 .4h0m.3 3h0m.2-1.1h0m.2-.7h0m.2 .4h0m.2 .3h0m.3-2.9h0m.2 1.2h0m.2-1.3h0m.2 .7h0m.2-1.8h0m.3 .1h0m.2-3.1h0m.2-4.9h0m.2-8.4h0m.2-18.4h0m.3-16.7h0m.2 16.3h0m.2 18.6h0m.2 9.7h0m.2 5h0m.2 .6h0m.3-1.4h0m.2 4.7h0m.2-.4h0m.2 .4h0m.2 4.5h0m.3-3.6h0m.2 1.4h0m.2-2.9h0m.2 2.5h0m.2 .9h0m.3-.7h0m.2-.5h0m.2 1.1h0m.2-.7h0m.2 2h0m.3-1.6h0m.2-1.4h0m.2-1.7h0m.2 1.9h0m.2 .7h0m.3-1.3h0m.2 .3h0m.2-.9h0m.2 .9h0m.2 1.8h0m.3-.5h0m.2 .1h0m.2-.1h0m.2 .2h0m.2 1.5h0m.2 1.9h0m.3-2h0m.2 2h0m.2-3.1h0m.2 .2h0m.2 2.5h0m.3-3.5h0m.2-.2h0m.2 1.1h0m.2-2.3h0m.2-.3h0m.3 4.5h0m.2-3.3h0m.2 .9h0m.2 0h0m.2-.7h0m.3 2.4h0m.2-.2h0m.2 .4h0m.2-.2h0m.2-.9h0m.3 2h0m.2-.7h0m.2-2.4h0m.2 1h0m.2-.7h0m.2 3.3h0m.3-1.6h0m.2-.4h0m.2-.8h0m.2 .8h0m.2-2.2h0m.3 1.4h0m.2-.2h0m.2 0h0m.2-1.1h0m.2 1.7h0m.3-2.4h0m.2 .8h0m.2 .3h0m.2-.1h0m.2-1h0m.3-1.1h0m.2-.5h0m.2-.3h0m.2-2.4h0m.2-2.4h0m.3-8.5h0m.2-13.7h0m.2-12.3h0m.2 11.1h0m.2 16.1h0m.3 8.8h0m.2 2.3h0m.2 2.7h0m.2-3h0m.2 2.8h0m.2 3.4h0m.3-2.7h0m.2 1.6h0m.2-3.2h0m.2 4.4h0m.2 1.9h0m.3-3.3h0m.2 .6h0m.2 .2h0m.2 2.6h0m.2-3.8h0m.3-1.8h0m.2 5.3h0m.2-4.5h0m.2 2.6h0m.2-4.3h0m.3 2.8h0m.2 1h0m.2-1.9h0m.2 .8h0m.2 1.7h0m.3-1.9h0m.2 1.8h0m.2 1.9h0m.2-5.7h0m.2 3.6h0m.2 .3h0m.3-1.4h0m.2 2.9h0m.2-.4h0m.2-1.2h0m.2 0h0m.3-.9h0m.2-1.6h0m.2 2.3h0m.2-1.4h0m.2-.2h0m.3 2.4h0m.2-1.9h0m.2 1.7h0m.2-3h0m.2 .8h0m.3 .6h0m.2 2h0m.2-2.2h0m.2 1.3h0m.2-2.2h0m.3 1.1h0m.2 1h0m.2-2.6h0m.2 .2h0m.2 1.8h0m.3-2.6h0m.2 2h0m.2-.2h0m.2-.8h0m.2 1h0m.2-.8h0m.3-1h0m.2-3.2h0m.2-1.3h0m.2 .2h0m.2-4.9h0m.3 .5h0m.2 .9h0m.2 1.9h0m.2 2.9h0m.2-1.6h0m.3 3.8h0m.2 2.5h0m.2-3.2h0m.2 2.7h0m.2 0h0m.3 4h0m.2-5.8h0m.2 .3h0m.2 .1h0m.2-.3h0m.3-1h0m.2 2.6h0m.2-1.5h0m.2 2.5h0m.2-.6h0m.2-2.1h0m.3 1h0m.2 2.5h0m.2-2.5h0m.2 .8h0m.2 .9h0m.3-1.9h0m.2 1.2h0m.2 1.7h0m.2-.7h0m.2-4.2h0m.3 4.8h0m.2-2.6h0m.2-.6h0m.2-.1h0m.2 2.7h0m.3-1.3h0m.2-.7h0m.2-1h0m.2 2h0m.2 .8h0m.3-3.3h0m.2-.2h0m.2 1.1h0m.2 1.4h0m.2-1.6h0m.3 .4h0m.2-1.2h0m.2 3h0m.2-2.1h0m.2 .3h0m.2 1.3h0m.3-2.1h0m.2 .1h0m.2 .4h0m.2-1.4h0m.2 2.2h0m.3-2.4h0m.2-1.2h0m.2-.7h0m.2-2.2h0m.2 1.1h0m.3-2.8h0m.2-7.1h0m.2-8.5h0m.2-12.9h0m.2-5.5h0m.3 8h0m.2 9.9h0m.2 10.1h0m.2 5.8h0m.2-2.1h0m.3 4.7h0m.2 .7h0m.2 1h0m.2-1.2h0m.2 2.5h0m.2-1h0m.3 3.4h0m.2 .7h0m.2-3.9h0m.2 0h0m.2 1.5h0m.3 .5h0m.2 .1h0m.2 1.3h0m.2-3.2h0m.2 1.3h0m.3 .2h0m.2 .2h0m.2-1h0m.2 .8h0m.2-.3h0m.3 2.9h0m.2-2.4h0m.2-2.5h0m.2 4.1h0m.2-.6h0m.3-1.4h0m.2-.1h0m.2 .5h0m.2 3.4h0m.2-3.1h0m.3 2.5h0m.2-.5h0m.2-2h0m.2 1.2h0m.2-1.6h0m.2-3.4h0m.3 3.4h0m.2 .1h0m.2 2.4h0m.2-.4h0m.2 .5h0m.3-.8h0m.2 .7h0m.2-.8h0m.2-.9h0m.2 .9h0m.3 .1h0m.2-.7h0m.2-3.5h0m.2-1h0m.2-3.6h0m.3-3.8h0m.2-3.3h0m.2-3.6h0m.2 4.9h0m.2 .7h0m.3 5.1h0m.2 4.3h0m.2 2.9h0m.2-1.1h0m.2 3.8h0m.2-1h0m.3-1.8h0m.2 1.2h0m.2 1.1h0m.2-2h0m.2 3.1h0m.3-1.8h0m.2 1.2h0m.2 .6h0m.2-1.8h0m.2 2.2h0m.3-4.2h0m.2 3.7h0m.2-3.7h0m.2 4.6h0m.2-2.5h0m.3 2.8h0m.2 .2h0m.2-2.1h0m.2-.8h0m.2 3h0m.3-3.6h0m.2 2.9h0m.2-1.3h0m.2-.3h0m.2-.3h0m.3 3.6h0m.2-5h0m.2 1.6h0m.2 1.4h0m.2 1h0m.2 1h0m.3-.5h0m.2-2.8h0m.2 1.4h0m.2 1.1h0m.2-.8h0m.3-3.1h0m.2 2.8h0m.2 .4h0m.2-2.8h0m.2 1.3h0m.3 .7h0m.2 1h0m.2 1.4h0m.2-.5h0m.2-1h0m.3-.4h0m.2-.8h0m.2-.3h0m.2 .5h0m.2 0h0m.3 1.9h0m.2 1.7h0m.2-2.4h0m.2 .7h0m.2-.5h0m.3-.5h0m.2 1.5h0m.2-.2h0m.2-1.5h0m.2-.3h0m.2 1.2h0m.3-1.7h0m.2 1.1h0m.2 1.2h0m.2-1.6h0m.2-2.7h0m.3 3.8h0m.2-2.7h0m.2-.3h0m.2-.1h0m.2 3.4h0m.3-4.2h0m.2 2.9h0m.2 .5h0m.2 0h0m.2-1.2h0m.3 .8h0m.2 .3h0m.2-2.1h0m.2 2.9h0m.2 .5h0m.3-2.7h0m.2 .1h0m.2-.6h0m.2 3.2h0m.2-3.2h0m.2 .9h0m.3-1.9h0m.2 4.3h0m.2-2.1h0m.2 .6h0m.2 1.9h0m.3-1.4h0m.2-2.7h0m.2 2.1h0m.2 .3h0m.2-2.5h0m.3-.4h0m.2-.3h0m.2 2h0m.2-1.6h0m.2-2.3h0m.3 1.1h0m.2-1.2h0m.2-3.6h0m.2-2.2h0m.2 2.7h0m.3 2.3h0m.2 0h0m.2 1.1h0m.2 .3h0m.2 .1h0m.3 1.9h0m.2 1.4h0m.2-.7h0m.2 1.9h0m.2-1h0m.2 1h0m.3-4.6h0m.2 2.8h0m.2 2.5h0m.2 .4h0m.2-.8h0m.3 1.9h0m.2-1.3h0m.2 .1h0m.2-2.4h0m.2 2h0m.3 .5h0m.2 .9h0m.2-.2h0m.2-1.7h0m.2 .3h0m.3-2h0m.2 2.6h0m.2-2.5h0m.2 1.1h0m.2 .4h0m.3 3h0m.2-1.1h0m.2-3h0m.2-1h0m.2 1.7h0m.2-.9h0m.3 1.7h0m.2-.1h0m.2 .3h0m.2-2.5h0m.2 .8h0m.3 .7h0m.2-.1h0m.2-1.5h0m.2 0h0m.2 1.1h0m.3-4.2h0m.2 1h0m.2-1.2h0m.2-4h0m.2-2.3h0m.3-2h0m.2-2.2h0m.2 3.3h0m.2 2.8h0m.2 5h0m.3-2.1h0m.2 5.5h0m.2-2.4h0m.2 2.8h0m.2 .7h0m.3-.8h0m.2-.4h0m.2-.3h0m.2-1.5h0m.2 2.1h0m.2-.6h0m.3 2.2h0m.2-1.8h0m.2 .8h0m.2 1h0m.2-.5h0m.3-.1h0m.2-.3h0m.2-.3h0m.2 1.3h0m.2 .4h0m.3-2.2h0m.2 3.6h0m.2-1.5h0m.2-3.2h0m.2 6.3h0m.3-3h0m.2-2h0m.2 3.4h0m.2-6.3h0m.2 7.7h0m.3-6h0m.2-.2h0m.2 1h0m.2 1.6h0m.2-.9h0m.2 1.8h0m.3-2.6h0m.2 2.7h0m.2-1.3h0m.2-2h0m.2 2.8h0m.3-1.3h0m.2-1.2h0m.2 1.6h0m.2-4.1h0m.2 .2h0m.3 1.3h0m.2-3.2h0m.2-.3h0m.2-.6h0m.2-.4h0m.3 2.1h0m.2-.8h0m.2 3.4h0m.2-1.3h0m.2 2.1h0m.3-.8h0m.2 2.4h0m.2 .2h0m.2 1.2h0m.2-2.3h0m.3-.4h0m.2-1.6h0m.2 1.3h0m.2 1.6h0m.2 .7h0m.2-.8h0m.3 .7h0m.2-2.2h0m.2 .8h0m.2 2.7h0m.2-.2h0m.3-3h0m.2 1.5h0m.2 .9h0m.2-2.1h0m.2 2.3h0m.3-.2h0m.2 .3h0m.2 2.1h0m.2-4.2h0m.2 3.1h0m.3-1h0m.2 .2h0m.2-2.2h0m.2 1.1h0m.2-.2h0m.3 2.3h0m.2-2.4h0m.2 1.9h0m.2-2.7h0m.2-.3h0m.2 .3h0m.3-3.2h0m.2 1.7h0m.2-.6h0m.2-.1h0m.2-.4h0m.3-2.6h0m.2-1.5h0m.2 1.5h0m.2-4h0m.2 .2h0m.3-.1h0m.2 1.8h0m.2 3.5h0m.2 1.3h0m.2-2.8h0m.3 2.9h0m.2 3h0m.2-2h0m.2 1.4h0m.2 2.4h0m.3 .9h0m.2-.7h0m.2-2.6h0m.2 .6h0m.2 .4h0m.3-.7h0m.2-.4h0m.2 4h0m.2-2.6h0m.2 .8h0m.2 .7h0m.3-1h0m.2-.6h0m.2 .2h0m.2 1.8h0m.2-1.4h0m.3-3.7h0m.2 4.5h0m.2 1h0m.2-2.9h0m.2-.5h0m.3 .2h0m.2 2.3h0m.2-3.1h0m.2 2.6h0m.2 .5h0m.3-.7h0m.2-.8h0m.2-1.2h0m.2 .1h0m.2 1h0m.3-1.5h0m.2 1.3h0m.2-1.2h0m.2 3.4h0m.2 .2h0m.2-3.5h0m.3 3.2h0m.2-1.6h0m.2-.3h0m.2 .5h0m.2 0h0m.3-2.8h0m.2 5.8h0m.2-5.1h0m.2-2.1h0m.2 3.4h0m.3 0h0m.2-1.1h0m.2-1.6h0m.2 4.4h0m.2-1.9h0m.3 .4h0m.2-1.1h0m.2 .6h0m.2-.7h0m.2 1.6h0m.3-.7h0m.2 1h0m.2 0h0m.2-.7h0m.2 0h0m.3 1.5h0m.2-4.1h0m.2 2.6h0m.2 1.8h0m.2-3.7h0m.2 2.7h0m.3-1.8h0m.2 .8h0m.2-.5h0m.2 .1h0m.2 1.1h0m.3-.9h0m.2-2.9h0m.2 6.2h0m.2-3.4h0m.2-.6h0m.3 2.1h0m.2 .4h0m.2-5.2h0m.2 3.6h0m.2-3.7h0m.3 2.1h0m.2 .5h0m.2-.8h0m.2-.5h0m.2-1.1h0m.3 .7h0m.2-.2h0m.2-.7h0m.2-2.4h0m.2-.4h0m.2 1.1h0m.3-1.7h0m.2-2.1h0m.2 .7h0m.2 .1h0m.2 1.7h0m.3 .4h0m.2 .4h0m.2 .3h0m.2 2.2h0m.2-2.1h0m.3 3.5h0m.2-4.1h0m.2 3.4h0m.2 1h0m.2 1.6h0m.3 3.6h0m.2-3.7h0m.2-.4h0m.2-2.4h0m.2 4.9h0m.3-4.7h0m.2 3.2h0m.2-1.4h0m.2 4.9h0m.2-3.9h0m.3 .7h0m.2-1.5h0m.2 .9h0m.2 1.9h0m.2-3.1h0m.2 .4h0m.3 .1h0m.2-.6h0m.2-.2h0m.2 1.7h0m.2 1.9h0m.3 0h0m.2-4.1h0m.2 .9h0m.2 .8h0m.2 .7h0m.3-.8h0m.2-.1h0m.2 .4h0m.2 .3h0m.2-4.3h0m.3 2.4h0m.2 .7h0m.2 .4h0m.2-1.4h0m.2-2.8h0m.3-1h0m.2 0h0m.2-1.4h0m.2-.5h0m.2 .6h0m.2-2.5h0m.3 2h0m.2-1.5h0m.2 5.2h0m.2 .3h0m.2-.5h0m.3 2.1h0m.2 2.2h0m.2-.2h0m.2-1.1h0m.2-.1h0m.3 .8h0m.2-1.4h0m.2 .2h0m.2 1.1h0m.2 .5h0m.3 .5h0m.2-1.1h0m.2-.5h0m.2 1.3h0m.2-.5h0m.3 1.2h0m.2 1.6h0m.2-.6h0m.2-2.5h0m.2 .5h0m.3-1.7h0m.2 2.3h0m.2-1.2h0m.2-.6h0m.2 .5h0m.2 2.3h0m.3-.6h0m.2-.4h0m.2 1.6h0m.2-2.1h0m.2-.8h0m.3 2.2h0m.2-3.6h0m.2 3.4h0m.2-.2h0m.2 .1h0m.3 .7h0m.2-1.6h0m.2 .5h0m.2-2.4h0m.2 1.6h0m.3 .1h0m.2 1.1h0m.2 1.8h0m.2-2h0m.2 1.2h0m.3-2.7h0m.2 1.5h0m.2-2.5h0m.2 1.4h0m.2-.2h0m.2 .9h0m.3 0h0m.2-.6h0m.2-.4h0m.2 2.4h0m.2-1.8h0m.3-3.1h0m.2 4h0m.2 .3h0m.2 .6h0m.2 1.1h0m.3-3.9h0m.2 1.7h0m.2-.3h0m.2-2.3h0m.2-1h0m.3 5h0m.2-2.8h0m.2 .6h0m.2 .3h0m.2-.1h0m.3 .8h0m.2-2.4h0m.2 1.4h0m.2 .4h0m.2-1.3h0m.3 .5h0m.2 .7h0m.2 .2h0m.2-2.2h0m.2 1.9h0m.2 .9h0m.3 1.1h0m.2-.7h0m.2 1h0m.2-1.7h0m.2-.2h0m.3 3.4h0m.2-3.1h0m.2-.9h0m.2 .7h0m.2 1.7h0m.3-3.3h0m.2 2.9h0m.2 .8h0m.2-.2h0m.2-1.6h0m.3-1.5h0m.2-.2h0m.2 1.4h0m.2 2.1h0m.2-.8h0m.3 .3h0m.2-1h0m.2 2.3h0m.2-2.8h0m.2-.7h0m.2 1.1h0m.3-.9h0m.2 2.1h0m.2 .8h0m.2-1.2h0m.2-2.7h0m.3 .2h0m.2 2.2h0m.2-2.4h0m.2 2.2h0m.2-2.7h0m.3 1.5h0m.2 1.4h0m.2-1.8h0" fill="none" stroke="#fc9209" stroke-width="1.3" stroke-linecap="round"/>
<path d="M319.8 116.8l.4-.4 .7 0 .4-.4 .3 .1 .4 .7 .2 0 .5-.5 .2-.1 .2 .3 .4-.1 .2-.3 .5 .3 .6 .9 .7-1.1 .2-.1 .5 .6 .4-.2 .2-.4 .2 .1 .7 1.1 .2 0 .5-.6 .8-.1 .7 1.2 .4 2.1 .5-7.1 .2 1.9 .4 1.5 1.6 .3 .6-.3 1.1 .9 1.1-.4 1.1-.5 .9 0 .9 .4 .6-.6 .2 .2 .9 .5 .7-.7 .4-.1 .7 .8 .2 0 .6-.2 .7-.7 .4 .4 .3 .1 .2-.2 1.1 .6 1.1-.7 .6 .5 .5 0 .2-.2 .4 .2 .2 .4 .7-.1 .2 .5 .5-.2 .2-.4 .4 .1 .2 .3 .3 0 .4-.6 .4-.1 .9 .7 .2 .6 .5-3.2 .4 1.7 .7 .6 .6-.4 .2 .3 .7 0 .4-.3 .3-.1 .2 .3 .2 0 .4-.3 .5 .5 .6-.7 .3 .3 .2 .1 .4-.3 .5 .5 .4-.1 .6 .2 .5-.1 1.1 .1 .6-.7 .7 .1 .9-.6 .6 .7 .5 .1 .4 .8 .2-.1 .2-.4 .5-.4 .2 .2 .7-.1 .8 1.2 .5-.3 .2-.5 .4-.5 .5 .4 .6 .2 .3 .5 .4 3.6 .2-.2 .2-2.3 .5-1.8 .6 .8 .5-.2 .6-.6 .7 .2 .4-.1 .5-.7 .2 0 .6 .7 .7-.3 .4-.3 .7 .9 .6-.9 .7 .7 1.1-.5 .7 .8 .4-.4 .7-.1 .2-.2 1.3 .5 .2-.1 .7-.9 .2 0 .6 .9 .5-.7 .4-.2 .7 .4 .6-.3 .7 .7 .4 .1 .5-.1 .4-.6 .7 .3 .2-.3 .4 .1 .7-.5 .6 .8 .5-.4 1.5 .9 1.1-.3 1.1 .1 .2 .4 .3 0 .2-.1 .4-.6 .7-.3 .2-.5 .2 .1 .4 .7 .3 .1 .4-.3 .4-.1 .3-.1 .6-1.7 .5 3.8 .4-1.4 .4-.8 .7 .9 .6-.4 .5 .4 .4-.6 .2-.2 .5 .3 .6-.5 .3 .3 .6-.2 .2 .1 .3-.1 .4 .1 .4 .5 .7-1.3 .2 .1 .7 1.2 .8 .6 .7-1.6 .9 1.3 .2 0 .4-.6 .7-.2 .7-.9 .2 .2 .4 2.3 1.8-2 .2-.1 .2 .2 .4 .7 .3-.1 .6-1.1 1.6 1.3 .2-.1 .6 .2 .3-.3 .6 .3 .5-.3 .8 .6 .5-.4 .8 .2 .7-.7 .4 .2 .7 .8 .7-.9 .2 0 .6 1.2 .7-.9 .4-.2 .3-.4 .2 0 .4 .7 .4 .3 1.1-.7 .3 0 .2 .1 .4 .8 .7-.8 .6 .3 .3-.1 1.3 .3 1.1-1 .6 .7 .2 0 .3-.5 .2-.1 .6 .7 .7-.5 .9 .4 .2 0 .7-.6 .6 .9 .5-.3 .6 .5 .7-.9 .2 0 .6 .3 .7-.6 .4 .2 .3 .5 .4 .3 .7-1.4 .8 1.1 .5-.1 .4 .2 .7 .9 1.1-1.5 .4-.2 .7 .3 .6 .7 .9-.5 .7-.7 1.1 .9 .6-.3 .4 .1 .5-.5 .4 .2 .5 .6 .6-.5 .7 .3 .4-.2 .2 0 .5 .5 .6-.8 .7 1 .4-.1 .2-.4 .5 0 .6 .1 .5 .5 1.1-.6 .6-.6 .7 .7 .7-.2 .4 .3 .2 .4 .5-.2 .2-.6 .4 0 .2 .3 .5 .1 .4-.5 .2-.1 .5 .4 .6-.3 .7 .2 .6-.4 .7 .9 .2-.2 .2 0 .5 .5 1.3-1 .4 .2 .5-.4 .2 .1 .4 .8 .2 0 .7-.7 .4-.1 .5 .3 .6-.1 1.4 .5 .6-1 .7 .8 .4 0 .2-.3 .5-.2 1.1 .9 .6-.5 .5-.1 .6 .6 .9-.2 .4 .4 .2 0 .9-1.3 .2 0 .7 1 .2 .1 .7-.6 .9-.1 .8 .4 1.1-.6 .7 .6 .9-.9 1.1 .6 .4 0 .2-.2 .7 .3 .4-.9 .2 .2 .5 .9 .4 0 .7-.5 .8 .9 .3 0 .8-.7 .5-.6 .2 0 .7 .8 .8-1.1 .5 .4 .6 1.1 .5-.3 .6-1 1.3 .8 .9-.7 .9 .9 .9-.6 .6 .4 .7-.6 .7-.2 .6 .8 .4 .1 .5-.3 .4 0 .2 .4 .5 0 .2-.4 .7 0 .2-.1 .2 0 .7 .6 .4-.5 .2 .1 .7 1.1 .2 0 .7-1 .4 0 .2 .3 .4 .1 .3-.2 .2 .1 .4-.5 .2 0 .3 .1 .6-.3 .2 .2 .7-.4 .7 .7 .6-.9 .5 .2 .6 .7 .2-.2 .5-.1 .2 .4 .4 .3 .2-.3 .7 0 .7-.5 .2 0 .6 .5 .3-.3 .2 0 .6 1.3 .3-.1 .6-1.4 .9 .1 .6 .7 .5-.5 .6 .2 .5-.2 .6 1.3 .5-.2 .6-1 .7-.1 .2 .1 .7 .8 .6-.5 .2 .2 .5 0 .4-.6 .9 .5 .9-.9 .2 .1" fill="none" stroke="#666" stroke-width="0.9"/>
</g>
<rect x="319.8" y="4.7" width="219.3" height="135.9" fill="none" stroke="#6e6e6e" stroke-width="1.15"/>
<path d="M330.8 140.60v-1.2M330.8 4.70v1.2M341.7 140.60v-1.2M341.7 4.70v1.2M352.7 140.60v-1.2M352.7 4.70v1.2M363.7 140.60v-1.5M363.7 4.70v1.5M374.6 140.60v-1.2M374.6 4.70v1.2M385.6 140.60v-1.2M385.6 4.70v1.2M396.6 140.60v-1.2M396.6 4.70v1.2M407.5 140.60v-1.5M407.5 4.70v1.5M418.5 140.60v-1.2M418.5 4.70v1.2M429.5 140.60v-1.2M429.5 4.70v1.2M440.4 140.60v-1.2M440.4 4.70v1.2M451.4 140.60v-1.5M451.4 4.70v1.5M462.3 140.60v-1.2M462.3 4.70v1.2M473.3 140.60v-1.2M473.3 4.70v1.2M484.3 140.60v-1.2M484.3 4.70v1.2M495.2 140.60v-1.5M495.2 4.70v1.5M506.2 140.60v-1.2M506.2 4.70v1.2M517.2 140.60v-1.2M517.2 4.70v1.2M528.1 140.60v-1.2M528.1 4.70v1.2M319.80 134.7h1.2M539.10 134.7h-1.2M319.80 128.5h1.5M539.10 128.5h-1.5M319.80 122.4h1.2M539.10 122.4h-1.2M319.80 116.2h1.2M539.10 116.2h-1.2M319.80 110.1h1.2M539.10 110.1h-1.2M319.80 103.9h1.5M539.10 103.9h-1.5M319.80 97.8h1.2M539.10 97.8h-1.2M319.80 91.6h1.2M539.10 91.6h-1.2M319.80 85.5h1.2M539.10 85.5h-1.2M319.80 79.3h1.5M539.10 79.3h-1.5M319.80 73.2h1.2M539.10 73.2h-1.2M319.80 67h1.2M539.10 67h-1.2M319.80 60.9h1.2M539.10 60.9h-1.2M319.80 54.7h1.5M539.10 54.7h-1.5M319.80 48.6h1.2M539.10 48.6h-1.2M319.80 42.4h1.2M539.10 42.4h-1.2M319.80 36.3h1.2M539.10 36.3h-1.2M319.80 30.1h1.5M539.10 30.1h-1.5M319.80 24h1.2M539.10 24h-1.2M319.80 17.8h1.2M539.10 17.8h-1.2M319.80 11.7h1.2M539.10 11.7h-1.2M319.80 5.5h1.5M539.10 5.5h-1.5" stroke="#3a3a3a" stroke-width="0.9" fill="none"/>
<circle cx="444.5" cy="19.3" r="1.9" fill="#fc9209"/>
<path d="M441.5 33.5h6.5" stroke="#f8533f" stroke-width="1.1"/>
<path d="M441.5 48.2h6.5" stroke="#555555" stroke-width="1.2"/>
<clipPath id="c2"><rect x="38.0" y="172.45" width="219.3" height="135.9"/></clipPath>
<g clip-path="url(#c2)">
<g fill="none" stroke="#ff4a4a" stroke-opacity="0.42" stroke-width="1"><path d="M38 279.7l8.6 .3 3.4 0"/><path d="M50 280l.8-.2 .5-.6 .4-1.3 .8-7.2"/><path d="M52.5 270.7l.8 7.6 .4 1.4 .6 .9 1.2 .6"/><path d="M55.5 281.2l1-.3 .8-.5 1.1-1.5 .7-2.4 .5-3 .4-4.3 .5-14.2 1-81.7"/><path d="M61.5 173.3l.7 67.7 .5 23.9 .5 7 .6 4.5 .9 2.6 .6 .8 .9 .6 1.8 .6 2.8 .2"/><path d="M70.8 281.2l9.3 0 3.8-.4 1.7-.5 1.2-.8 .9-1.3 .7-2 .5-2.9 .4-4 .5-13.5 1.1-77.1"/><path d="M90.9 178.7l.7 63.9 .6 22.6 .5 6.7 .6 4.3 1 2.6 .6 .9 .8 .6 1.8 .7 2.1 .4 2 .3"/><path d="M101.6 281.7l2.6-.2 1.4-.3 1-.8 .6-1 1.2-3.1"/><path d="M108.4 276.3l.3 .3 1 2.6 .7 .8 .6 0"/><path d="M111 280l.6-.3 .8-1.7 .8-4.3 .4-8.5 .9-46.1"/><path d="M114.5 219.1l.7 39.3 .6 13.6 .4 4.1 .6 2.7 .8 1.6 1.3 1 1.4 .4 1.9 .2 5.7 .1"/><path d="M127.9 282.1l2.8-.4 1-.5 .7-.6 .9-1.6 .7-2.7 1.3-11.8 .3-1.4"/><path d="M135.6 263.1l.3 1.4 1.3 11.9 .6 2.6 .9 1.6 .9 .8 1.2 .4 1.7 .3"/><path d="M142.5 282.1l1.6 0 1.9-.4 1.6-.5 1.2-.8 .9-1 .9-1.6 .7-2.1 1-6.8 .7-10.4 .9-22.8 .3-3"/><path d="M154.2 232.7l.4 3.8 1.1 25.1 .8 9.7 .6 3.6 .8 2.5 1 1.7 1.4 1 1.4 .4 2 .2"/><path d="M163.7 280.7l1.5 0 1.4-.3 1-.5 .8-.7 .7-1 .5-1.3 .8-3.2 .6-5 1.3-21.7 .4-2.6"/><path d="M172.7 244.4l.3 2.9 1.1 19.2 .8 7.3 .6 2.8 .8 2 1 1.4 1.5 .9 2.4 .6 2.6 0"/><path d="M183.8 281.5l1.3-.4 1.5-1.3 .5-.2"/><path d="M187.1 279.6l.5 .2 1.8 1.7 2.2 .7 3 .1"/><path d="M194.6 282.3l3.9-.1 2.8-.2 1.9-.4 1.6-1 1.2-1.7 .8-2.5 1.2-5.4 .4-.8"/><path d="M208.4 270.2l.4 .9 1.6 6.6 .7 1.5 .9 1 1.5 .8 2.3 .2"/><path d="M215.8 281.2l2.8-.3 2.2-.7 1.1-.8 .9-1.2 .7-1.5 .6-2.1 .8-4.6 1.2-12.6 .5-2.2"/><path d="M226.6 255.2l.4 1.8 1.1 11.2 .8 5.4 1.1 3.6 .6 1.1 .8 .9 1 .6 1.1 .5 3.3 .4"/><path d="M236.8 280.7l3.3-.2 1.2-.4 .9-.5 1-1.1 .8-1.7 1.7-7.6 .4-.9"/><path d="M246.1 268.3l.5 .9 1.4 7.1 .7 1.7 .7 1.1 1.1 .9 1.5 .6 2.1 .4 3.2 .2"/></g>
<path d="M38 280.4h0m.2 .3h0m.2-1.3h0m.1-.1h0m.2 .6h0m.2-.2h0m.2-1h0m.1 .3h0m.2 2h0m.2-1.2h0m.2-.1h0m.1-.5h0m.2 .8h0m.2 .4h0m.2-.2h0m.1 1.2h0m.2-1.5h0m.2 .5h0m.2-.9h0m.1 1.2h0m.2-.5h0m.2 .5h0m.2 .1h0m.1-1.5h0m.2 1h0m.2-.8h0m.2 1.4h0m.1-1.1h0m.2 1.6h0m.2-1h0m.2 0h0m.1-1h0m.2 .4h0m.2 .3h0m.2-.9h0m.1 .6h0m.2-.3h0m.2-.2h0m.2 .8h0m.1 .2h0m.2-.6h0m.2 .7h0m.2-.7h0m.1-.6h0m.2 .2h0m.2 1.1h0m.2 .7h0m.1-1h0m.2 0h0m.2-1h0m.2 1.3h0m.1-.2h0m.2-.8h0m.2 1.1h0m.2-.3h0m.1-1.6h0m.2 .2h0m.2 .7h0m.2 .3h0m.2 1.1h0m.1-1.4h0m.2 .4h0m.2-.1h0m.2 .6h0m.1-.4h0m.2 .2h0m.2-.4h0m.2-1h0m.1 1h0m.2 1.7h0m.2-.6h0m.2 .4h0m.1-.7h0m.2-1.2h0m.2 0h0m.2 .6h0m.1-1h0m.2 .3h0m.2-.2h0m.2-1.2h0m.1-2.1h0m.2-3.8h0m.2-.1h0m.2-1.6h0m.1 1.9h0m.2 3.3h0m.2 1.7h0m.2 1.6h0m.1 .4h0m.2-.1h0m.2 1h0m.2-.6h0m.1 0h0m.2 .9h0m.2 .2h0m.2 .4h0m.1-.3h0m.2 1.3h0m.2-1.2h0m.2 .2h0m.1 1h0m.2-2.7h0m.2 2.7h0m.2-.2h0m.1-1h0m.2 1.8h0m.2-1.1h0m.2 .5h0m.1-.5h0m.2-.9h0m.2-.5h0m.2-.8h0m.1 .1h0m.2-.5h0m.2 .2h0m.2 .6h0m.2-1.6h0m.1 .9h0m.2-.4h0m.2-2.1h0m.2-.1h0m.1-.4h0m.2-1.4h0m.2-1.3h0m.2-.1h0m.1-3h0m.2-2.2h0m.2-4.7h0m.2-5.2h0m.1-9.1h0m.2-11.6h0m.2-16.4h0m.2-21.9h0m.1-19.6h0m.2-5.5h0m.2 14h0m.2 22.2h0m.1 20.3h0m.2 13.7h0m.2 9.5h0m.2 6.9h0m.1 4.1h0m.2 4.8h0m.2 1.3h0m.2 2.6h0m.1 .9h0m.2 .9h0m.2 .7h0m.2 1.6h0m.1 .1h0m.2 1.5h0m.2 .6h0m.2-1.2h0m.1 .8h0m.2 1.5h0m.2-.4h0m.2-.6h0m.1-1.1h0m.2 .6h0m.2 .3h0m.2 2.3h0m.1-1.3h0m.2-.4h0m.2 .1h0m.2 .1h0m.1 .6h0m.2-1.7h0m.2 .3h0m.2 1.4h0m.1 .8h0m.2-2.5h0m.2 2.2h0m.2-1.5h0m.2-.5h0m.1 2.4h0m.2-1h0m.2 .6h0m.2-.8h0m.1 .2h0m.2-1.4h0m.2 1.2h0m.2 .5h0m.1-.9h0m.2 1.2h0m.2 .1h0m.2-2.3h0m.1 2.7h0m.2-.3h0m.2-.5h0m.2 1h0m.1 .9h0m.2-2.7h0m.2 1.6h0m.2-.2h0m.1-.2h0m.2 .5h0m.2 .1h0m.2-1h0m.1-2h0m.2 1.4h0m.2 0h0m.2 2h0m.1-1.3h0m.2 1h0m.2-1.7h0m.2 .9h0m.1-.3h0m.2 .1h0m.2 .5h0m.2 .8h0m.1-1.9h0m.2 1.7h0m.2-.2h0m.2-.7h0m.1 .3h0m.2-.8h0m.2-.6h0m.2 .6h0m.1 .1h0m.2 .1h0m.2-.7h0m.2 2.3h0m.1-1.9h0m.2 1.2h0m.2 .2h0m.2-1h0m.1 .3h0m.2-.8h0m.2-.5h0m.2 3h0m.2-2h0m.1-1.7h0m.2 .9h0m.2-.5h0m.2 1.2h0m.1 1.3h0m.2-.3h0m.2-1.6h0m.2-.2h0m.1 1.5h0m.2-.4h0m.2-.5h0m.2 1.7h0m.1-1.2h0m.2-1.7h0m.2-.5h0m.2 2h0m.1-1.7h0m.2 2h0m.2 .3h0m.2 1.2h0m.1-2.8h0m.2 1.1h0m.2-2.3h0m.2 1.7h0m.1 .1h0m.2 1.7h0m.2-2.9h0m.2 1.6h0m.1-.2h0m.2 1.7h0m.2-2.7h0m.2-.1h0m.1 1.4h0m.2-.7h0m.2-.3h0m.2-.5h0m.1 .7h0m.2-1.4h0m.2 1.6h0m.2 .2h0m.1-.2h0m.2 1.6h0m.2-1.5h0m.2-1.6h0m.1 .5h0m.2 .8h0m.2-1.2h0m.2 1.8h0m.1-1.6h0m.2-.9h0m.2-.3h0m.2 .8h0m.1-1.6h0m.2-1.1h0m.2 1.3h0m.2-1.5h0m.2 1.1h0m.1-.6h0m.2-2.8h0m.2-.8h0m.2-1.7h0m.1-1.5h0m.2-2.9h0m.2-4.3h0m.2-5.4h0m.1-6.2h0m.2-9.4h0m.2-14.9h0m.2-17.6h0m.1-18.8h0m.2-11.3h0m.2 3.6h0m.2 17h0m.1 18.9h0m.2 16.8h0m.2 11.3h0m.2 8.5h0m.1 5.7h0m.2 4.1h0m.2 3.7h0m.2 .8h0m.1 3.6h0m.2 1h0m.2 .7h0m.2 1.9h0m.1-.6h0m.2 .6h0m.2 1.2h0m.2-1.3h0m.1 1.8h0m.2 .2h0m.2 1.2h0m.2 .9h0m.1-.7h0m.2 0h0m.2 .2h0m.2-.8h0m.1 2.7h0m.2-.9h0m.2 .7h0m.2-2.6h0m.1 1.7h0m.2 0h0m.2 .6h0m.2-1.6h0m.1 1.1h0m.2-.4h0m.2 2h0m.2-2.8h0m.1 .8h0m.2-.1h0m.2-.6h0m.2 1.3h0m.2 0h0m.1-.7h0m.2 .3h0m.2 .6h0m.2-.2h0m.1 .5h0m.2-1.1h0m.2-.1h0m.2 .8h0m.1-1.6h0m.2 3h0m.2-1.1h0m.2-1.7h0m.1 1.9h0m.2 1h0m.2-2.5h0m.2 .7h0m.1 1.5h0m.2-1.7h0m.2 1.6h0m.2 .3h0m.1-1.1h0m.2 .3h0m.2 .6h0m.2-.7h0m.1 .6h0m.2-1h0m.2 .1h0m.2-.7h0m.1 1.1h0m.2 .7h0m.2 0h0m.2-1h0m.1-1.5h0m.2 .5h0m.2 1.3h0m.2-1.4h0m.1 1.8h0m.2-1.9h0m.2 1.1h0m.2-1h0m.1 0h0m.2 .7h0m.2-.6h0m.2 1h0m.1-.9h0m.2-1.1h0m.2-2.7h0m.2 2.5h0m.1 .2h0m.2 .6h0m.2-2.1h0m.2 1.6h0m.1-1.2h0m.2-1.5h0m.2 .6h0m.2-2.4h0m.2 .1h0m.1 1.3h0m.2 .2h0m.2 1.1h0m.2 .6h0m.1-.9h0m.2 .3h0m.2 .6h0m.2 .4h0m.1 .9h0m.2-.5h0m.2 1.6h0m.2-1.1h0m.1-1.1h0m.2 .1h0m.2 1.5h0m.2-.2h0m.1-1.5h0m.2-.4h0m.2 2.4h0m.2-1.1h0m.1-.8h0m.2-1.1h0m.2 1.1h0m.2-1.8h0m.1-.1h0m.2-2.9h0m.2 0h0m.2-1.6h0m.1-2.5h0m.2-4.7h0m.2-5.5h0m.2-7.5h0m.1-11.9h0m.2-12.2h0m.2-8.5h0m.2 3.2h0m.1 11.7h0m.2 12.3h0m.2 10h0m.2 6.2h0m.1 4.6h0m.2 3.8h0m.2 2.9h0m.2 .4h0m.1 3.2h0m.2 1h0m.2-1.3h0m.2 .7h0m.1 .2h0m.2 1.3h0m.2 1.1h0m.2-.3h0m.1-.6h0m.2 1.2h0m.2 .1h0m.2 .8h0m.2-.1h0m.1-1.6h0m.2 .5h0m.2 1.4h0m.2 0h0m.1-.4h0m.2-.8h0m.2 1.5h0m.2-.8h0m.1 1.7h0m.2-.7h0m.2-1.4h0m.2-.4h0m.1 1.8h0m.2-.3h0m.2-1.3h0m.2 1h0m.1 .2h0m.2-.9h0m.2 .3h0m.2-.8h0m.1 .3h0m.2 1.2h0m.2-.4h0m.2 0h0m.1 1.1h0m.2-.3h0m.2-1.7h0m.2 2.3h0m.1-2.3h0m.2 .7h0m.2 .3h0m.2-.5h0m.1 0h0m.2-.6h0m.2 1.4h0m.2-.1h0m.1 0h0m.2-1.9h0m.2 .9h0m.2 1.6h0m.1-.5h0m.2 .3h0m.2-.6h0m.2-.2h0m.1-1.8h0m.2 3.6h0m.2-2.5h0m.2 .5h0m.1 1h0m.2-.5h0m.2 .3h0m.2-.4h0m.1-.9h0m.2 2.2h0m.2-2.4h0m.2 1.4h0m.2-1.6h0m.1 .9h0m.2-.7h0m.2 .6h0m.2-.5h0m.1 .9h0m.2 .7h0m.2-1.3h0m.2 0h0m.1-1.2h0m.2 3.5h0m.2-1.6h0m.2-1.1h0m.1 1.9h0m.2-.9h0m.2-2h0m.2 .5h0m.1 2h0m.2-2.1h0m.2 .2h0m.2 .3h0m.1 .2h0m.2 0h0m.2 .9h0m.2-.5h0m.1-1.2h0m.2 .4h0m.2-1.6h0m.2 1.5h0m.1 1.3h0m.2-2h0m.2-1h0m.2-.6h0m.1-.5h0m.2-.2h0m.2-2.7h0m.2 .3h0m.1-2.4h0m.2-.9h0m.2-1h0m.2-2.7h0m.1 1.7h0m.2-.7h0m.2 .1h0m.2 1.9h0m.1 .8h0m.2 2.1h0m.2 1.6h0m.2-.7h0m.1 2.7h0m.2 .7h0m.2 1.3h0m.2 .3h0m.1-.7h0m.2 .4h0m.2 .8h0m.2 .8h0m.2-1h0m.1 2.2h0m.2-1h0m.2 .1h0m.2 .6h0m.1-.8h0m.2 .8h0m.2 .2h0m.2-2.2h0m.1 1h0m.2-.4h0m.2 1h0m.2-.7h0m.1 .2h0m.2-.4h0m.2-.9h0m.2 2.2h0m.1-.4h0m.2 .3h0m.2 3h0m.2-1.8h0m.1-1.2h0m.2-.5h0m.2 1h0m.2-1.5h0m.1-.1h0m.2 1.5h0m.2-1.6h0m.2-.3h0m.1 1.1h0m.2 1.2h0m.2-2.1h0m.2 1.4h0m.1 .1h0m.2-.4h0m.2 .5h0m.2-1.4h0m.1 .2h0m.2-.4h0m.2 .5h0m.2 1.2h0m.1-.6h0m.2-1h0m.2 1.1h0m.2-2.9h0m.1 2.7h0m.2 .2h0m.2-1.5h0m.2 .2h0m.1 .6h0m.2 .1h0m.2-.6h0m.2-.4h0m.1 0h0m.2 .8h0m.2-.7h0m.2-.5h0m.2 0h0m.1 3h0m.2-1.9h0m.2-.3h0m.2-.6h0m.1-.5h0m.2-.8h0m.2 .1h0m.2 .3h0m.1-.4h0m.2-1.6h0m.2 1.5h0m.2-1.1h0m.1-1.3h0m.2 .4h0m.2 1.2h0m.2-2.3h0m.1-.2h0m.2-1h0m.2-1.7h0m.2-.8h0m.1-.8h0m.2-2.3h0m.2-1.6h0m.2-2h0m.1-2.7h0m.2-3.1h0m.2-3.3h0m.2-4.1h0m.1-4.7h0m.2-4.3h0m.2-4.3h0m.2-4.5h0m.1-1.4h0m.2-.1h0m.2 2h0m.2 3.5h0m.1 4.4h0m.2 4.6h0m.2 4.9h0m.2 3.3h0m.1 4.3h0m.2 2.2h0m.2 4.2h0m.2 1.8h0m.1 .6h0m.2 2.2h0m.2 1.7h0m.2 .4h0m.1 1.9h0m.2 0h0m.2 2.3h0m.2-.6h0m.2 .6h0m.1-.4h0m.2 .1h0m.2 1.7h0m.2-1.6h0m.1 2h0m.2 1.4h0m.2 .4h0m.2-2.9h0m.1 1.5h0m.2 .6h0m.2 .2h0m.2 .4h0m.1-1.9h0m.2 1.3h0m.2-1.5h0m.2 1.7h0m.1 1.9h0m.2-2.6h0m.2 1.1h0m.2-.1h0m.1-1.5h0m.2 1.6h0m.2-1.1h0m.2 1h0m.1 .7h0m.2-1.1h0m.2 1h0m.2-1.6h0m.1 .3h0m.2 .7h0m.2-.4h0m.2 0h0m.1 .8h0m.2-1h0m.2 .9h0m.2-.7h0m.1 1.4h0m.2-.9h0m.2-.3h0m.2 1h0m.1-.3h0m.2 .1h0m.2-1.1h0m.2 1.2h0m.1-1h0m.2-1h0m.2 1h0m.2 1.6h0m.1-1.5h0m.2-.9h0m.2 1.1h0m.2-1.2h0m.1 .3h0m.2 .1h0m.2 .5h0m.2 .1h0m.2-.3h0m.1-.4h0m.2-.6h0m.2 0h0m.2 .4h0m.1-.5h0m.2-.5h0m.2 1.3h0m.2-1h0m.1-.3h0m.2-.8h0m.2-.4h0m.2-.6h0m.1-.1h0m.2-1.8h0m.2-.6h0m.2 .3h0m.1-2.3h0m.2-.7h0m.2-3.4h0m.2-.6h0m.1-2.4h0m.2-3h0m.2-3h0m.2-3.4h0m.1-4.3h0m.2-2.7h0m.2-3h0m.2-1.6h0m.1 .9h0m.2 .4h0m.2 3.1h0m.2 3.2h0m.1 4.4h0m.2 2.6h0m.2 3.3h0m.2 3.3h0m.1 .7h0m.2 3h0m.2 2.1h0m.2 1.2h0m.1 .7h0m.2 .8h0m.2 1.2h0m.2 .3h0m.1 .4h0m.2 2.5h0m.2-.1h0m.2 .8h0m.1-.4h0m.2-.8h0m.2 .9h0m.2 1.6h0m.1-.4h0m.2-.9h0m.2 1.5h0m.2-.2h0m.2-.2h0m.1 1.9h0m.2-2.1h0m.2 .5h0m.2-.1h0m.1 1.4h0m.2-.1h0m.2-.1h0m.2-.6h0m.1 .2h0m.2 0h0m.2-1.3h0m.2 .4h0m.1 1.8h0m.2 0h0m.2-2h0m.2 1.8h0m.1-1.4h0m.2-.2h0m.2 1.9h0m.2-.2h0m.1-.3h0m.2 .8h0m.2 .1h0m.2-.5h0m.1-1h0m.2 1.1h0m.2-.2h0m.2 .2h0m.1 .8h0m.2-2.5h0m.2 3.3h0m.2-1.4h0m.1-1.1h0m.2 1.7h0m.2-1.8h0m.2-.6h0m.1 1.8h0m.2-.9h0m.2 1h0m.2-1.4h0m.1 .3h0m.2-.2h0m.2-1.1h0m.2 .6h0m.1-.8h0m.2 .4h0m.2 1.4h0m.2-1.4h0m.1-.4h0m.2 1.4h0m.2-2.4h0m.2 .9h0m.1-.3h0m.2 1h0m.2-.7h0m.2-.1h0m.2 .6h0m.1-.1h0m.2 1.9h0m.2-2.6h0m.2 2.2h0m.1 1.1h0m.2-.8h0m.2 0h0m.2-1h0m.1 1.3h0m.2-.9h0m.2 1.2h0m.2-2.6h0m.1 1.5h0m.2-1.2h0m.2 2.6h0m.2-1.3h0m.1 1.4h0m.2-1.3h0m.2 0h0m.2 2h0m.1-.4h0m.2 .1h0m.2 .3h0m.2-.7h0m.1 .3h0m.2 .4h0m.2-1.3h0m.2-.4h0m.1 1.6h0m.2-.6h0m.2-.5h0m.2 .2h0m.1 .4h0m.2-1.3h0m.2 0h0m.2 .1h0m.1 .8h0m.2-1.9h0m.2 .2h0m.2 1.9h0m.1-.2h0m.2-1.2h0m.2 1.8h0m.2-1.1h0m.1 .3h0m.2 .7h0m.2-.4h0m.2 1.1h0m.1-.9h0m.2 1.3h0m.2-3.7h0m.2 .6h0m.1 .3h0m.2 .8h0m.2-.6h0m.2-.3h0m.2 .2h0m.1 .1h0m.2 1.6h0m.2-1.2h0m.2 .9h0m.1 .5h0m.2 0h0m.2-1.4h0m.2-.5h0m.1 2.1h0m.2-2.8h0m.2 .3h0m.2 1.6h0m.1 0h0m.2-.3h0m.2-1h0m.2 1.2h0m.1 .6h0m.2-1.2h0m.2 2h0m.2-1.9h0m.1-.9h0m.2 .7h0m.2-.4h0m.2 .2h0m.1-.2h0m.2 .5h0m.2 .8h0m.2-.6h0m.1-.2h0m.2-1.2h0m.2-.3h0m.2 1h0m.1 .9h0m.2-.1h0m.2-.5h0m.2-1.4h0m.1 .8h0m.2 .2h0m.2 .5h0m.2-1.5h0m.1 .4h0m.2 .1h0m.2-.3h0m.2-1.4h0m.1 1.3h0m.2-1.8h0m.2 .1h0m.2 .7h0m.1-1h0m.2 .4h0m.2 0h0m.2-.9h0m.1-.2h0m.2-1.6h0m.2-.4h0m.2-1.1h0m.2-1h0m.1 1.9h0m.2-2.8h0m.2 .9h0m.2-1.5h0m.1 .7h0m.2-.3h0m.2-.3h0m.2 2.7h0m.1-.5h0m.2 .9h0m.2 2h0m.2-1.2h0m.1 1.1h0m.2 .9h0m.2 .7h0m.2-2.6h0m.1 3.1h0m.2 1.5h0m.2-.5h0m.2-.2h0m.1 .2h0m.2 0h0m.2 .9h0m.2-1.2h0m.1 1h0m.2 .9h0m.2-.4h0m.2-.3h0m.1-1h0m.2 .4h0m.2 .7h0m.2-.2h0m.1-.1h0m.2-1.6h0m.2 2.3h0m.2-.9h0m.1-.2h0m.2 1.5h0m.2-1h0m.2 0h0m.1 .6h0m.2-.9h0m.2-.4h0m.2-.1h0m.1 1.2h0m.2-.4h0m.2-1.8h0m.2 3h0m.1-1.2h0m.2-.6h0m.2 .6h0m.2-.4h0m.1 .4h0m.2-.5h0m.2-.5h0m.2 1.3h0m.2-.4h0m.1 .2h0m.2 .3h0m.2-.4h0m.2 .9h0m.1-1.6h0m.2-.9h0m.2 0h0m.2 .3h0m.1 1.9h0m.2-2.2h0m.2 1.8h0m.2-.6h0m.1-1.6h0m.2 2.4h0m.2-1.7h0m.2 .4h0m.1 .2h0m.2 .6h0m.2-1.2h0m.2 .6h0m.1-1.4h0m.2-.2h0m.2 1.9h0m.2-.8h0m.1-.4h0m.2 .5h0m.2-.2h0m.2-1.2h0m.1-.1h0m.2 .8h0m.2-1.2h0m.2-1.1h0m.1 .8h0m.2-.7h0m.2-2.4h0m.2-.4h0m.1 1.3h0m.2-1h0m.2-2.1h0m.2-.1h0m.1-1.9h0m.2-1.3h0m.2-2.2h0m.2 .1h0m.1-2.1h0m.2-2.6h0m.2-3.1h0m.2-1.2h0m.1-.7h0m.2-2h0m.2-.5h0m.2 .8h0m.1 1h0m.2 1.1h0m.2 1.4h0m.2 2.5h0m.2 1.7h0m.1 2.2h0m.2 1.9h0m.2 1.9h0m.2 .7h0m.1 1.6h0m.2 1.1h0m.2 .1h0m.2 1.1h0m.1 .5h0m.2 2.4h0m.2-1h0m.2 1.3h0m.1 .6h0m.2 .4h0m.2-1.3h0m.2 .6h0m.1 1.5h0m.2 .6h0m.2-.7h0m.2 .5h0m.1-1.5h0m.2 2.7h0m.2 .4h0m.2-1.2h0m.1-.1h0m.2 0h0m.2-.4h0m.2-1h0m.1 2.1h0m.2 .2h0m.2 1.1h0m.2-1.6h0m.1-.5h0m.2 1h0m.2-1.2h0m.2 1.1h0m.1-1.3h0m.2 1.1h0m.2 1.2h0m.2-.3h0m.1 .8h0m.2 .2h0m.2-1.7h0m.2-.5h0m.1-.9h0m.2 1.7h0m.2 .2h0m.2 .8h0m.1-1.8h0m.2 .5h0m.2 .9h0m.2-1.1h0m.1 .1h0m.2 2.1h0m.2-2.3h0m.2 .6h0m.2 .4h0m.1 .1h0m.2-1.9h0m.2 .2h0m.2-.3h0m.1 2.6h0m.2-.4h0m.2-1.4h0m.2 1.8h0m.1-.4h0m.2 1h0m.2-3.2h0m.2 .7h0m.1 .5h0m.2 .2h0m.2 .5h0m.2-.1h0m.1-.8h0m.2 1.1h0m.2-1.7h0m.2 1.4h0m.1 .3h0m.2-1.9h0m.2 1.2h0m.2-.6h0m.1 .7h0m.2 1.5h0m.2-2.4h0m.2 1.5h0m.1-2.2h0m.2 2.1h0m.2 .2h0m.2-2h0m.1-.2h0m.2 0h0m.2 .9h0m.2-2h0m.1 1.6h0m.2-1.1h0m.2-.2h0m.2-.7h0m.1-1.5h0m.2 .6h0m.2-1.5h0m.2-.7h0m.1 1.2h0m.2-.9h0m.2-.9h0m.2 0h0m.1-.6h0m.2 1.8h0m.2-1.4h0m.2 .5h0m.1 1.3h0m.2 1.5h0m.2-.5h0m.2 1h0m.2-.4h0m.1 .9h0m.2-.3h0m.2 1.3h0m.2-1.2h0m.1 3.2h0m.2-.8h0m.2-1h0m.2 1.8h0m.1-1.8h0m.2 1.8h0m.2-1h0m.2 .9h0m.1-.3h0m.2-.4h0m.2 .3h0m.2 .3h0m.1-2.1h0m.2 1.8h0m.2 .9h0m.2-1.6h0m.1 .2h0m.2-.3h0m.2-.5h0m.2 2.4h0m.1-1.7h0m.2-.1h0m.2 1h0m.2-.2h0m.1 2.9h0m.2-2.1h0m.2-2h0m.2 3.1h0m.1-1.1h0m.2-.7h0m.2-.2h0m.2-.9h0m.1 2.9h0m.2-1.6h0m.2-.6h0m.2 1.8h0m.1-1.1h0m.2-1.6h0m.2 .5h0m.2 .7h0m.1 2.7h0m.2-2.1h0m.2-.5h0m.2 .6h0m.1-.2h0m.2-2.7h0m.2 2.9h0m.2 .6h0m.1-1h0m.2 .5h0m.2-.1h0" fill="none" stroke="#86b400" stroke-width="1.3" stroke-linecap="round"/>
<path d="M38 298.8l.9-.4 .4 .1 .7-.4 .6 .7 .3 0 .6-.3 .7 .1 .4-.2 .7 .4 .6-.6 .7 .6 1.3-.2 .2 .2 .5-.1 1-.4 1.4 .5 .6-.1 .9 .3 .7-.3 .2 .1 .4 0 .5-.4 .6 .2 .5-.1 .6 .2 .4-.4 .7 .5 .9 .2 .6-.3 .7 .3 .9 .1 .6-.4 .5 0 .4 .3 .7-.2 .6 .1 .5 .8 .6-1.1 1.1-.3 1.6 .8 .4-.1 .7-.8 .2 0 .4 .6 .4 .2 .5 0 .6-.4 .9 .4 .7-.6 .6 .2 1.8-.1 1.1 .2 .6 .4 .9-.5 .7 .6 .6 .1 .9-.7 .5-.2 1.5 0 1.5 .4 .7-.3 .6 .2 .7-.6 .9 .1 .9-.2 .6 .4 1.1-.1 1.5 .5 .9-.9 1.6 .3 .4-.4 .7-3.8 .6 3.6 1.1 1.5 .2 .1 .9-.7 1.1-.6 1.1 1 .4-.1 .3-.3 1 .3 .5 .3 .2 0 .7-1 .2-.1 .2 0 .7 .9 .2 .1 .2 0 .7-.7 .6 .6 .2-.1 .5-.5 .2 0 .7 .5 1-.2 .3 .3 .4 0 .2-.1 1.1 .2 .7-.7 .4-.1 1.6 .3 1 .5 1.1-.2 .9 .4 1.3-1.1 .5 .2 .4-.1 .5 1.3 .4-.5 .7-.2 .4-.4 .6 .5 .7-.6 .4 .5 .5 .2 .2 0 .4-.6 .5-.1 .4 .1 .2 .3 .5 .1 .4-.4 .2-.1 .9 .5 1.3-.5 .9 .7 1.3-.6 .7 .1 .6 .3 .7-.3 .9 .1 1.1-.3 .6 .5 .7-.5 .2 0 1.1 .4 .4-.1 .7 .1 .4-.2 1.1 .7 .7-.4 1.1-.2 .4-.3 .7 .9 1.1-.7 2 .5 1-.7 1.1 .3 .7-.1 1.1 .2 .7-.3 .6 .2 .7-.4 .6 .1 .7-.1 1.7 .8 .7-.5 1.3 .1 .7-.5 .9 .7 1-.6 .5 .2 .4 .5 .7-.2 .6 .2 .7-.6 .2 0 .9 .2 .4 .3 .7-.3 .4 0 .7 .5 .4-.1 .7-.5 .6 .5 .7-.6 .7 .2 .4-.2 .4 .1 .7 .6 .4-.3 .7-.2 1.3-.1 1.5 .6 1.4-.6 .6 .6 .9-.6 .7 .1 .6-.1 .9 .7 .4 0 1.6-.9 .8 .1 .7 .6 1.1-.5 2.2 .4 .4-.1 .7 .2 .9-.2 .8 .6 1.1-.5 1.1 .2 .5-.6 .4-.2 .9 .5 1.5 0 .7 .2 1.9-.3 .9 .3 .9-.5 .9 .9 .9-.2 .8-.6 1.1 .2 .5 .3 .6-.3 .5 .1 .6-.6 .2 0 2 .9 .5 0 .8-1 .7 .5 .6-.1 1.1 .5 1.1-.5 .7 .3 .9 .2 1.7-.5 .7 .4 1.7-.5 .5 .4 .6-.3 .9 .1 .5 .3 .6-.2 1.3 .3 .2 0 .9-.9 .9 .5 1.1 .2 .9-.3 .6 .5 .3 0 .6-.8 .9 .7 .4-.4 .7 .3 .4-.4 .9-.1 .2-.1 .5 .1 .6 .9 .7 .1 .6 .3 .7-1 .4 .3 .5-.1 .6 .2 .7-.6 .4 .2 .5-.1 1.3 .3 .6-.3 .7 .5 .4 .1 1.6-.6 .8 .1 .9-.6 .9 .7 .7-.1 .4 .2 .9-.4 .8 .4 .5-.1 .6 .3 .7-.2 1.5 .7 .5-.2 .6-.9 .9-.7 .9 .4 .9 .1 .4 .3 .7-.1 .6 .4 .5 0 1.1-.5 1.3 .5 .4-.3 .2 0 .7 .3 .9-.4 .2 .3 .4 .1 .9-.4" fill="none" stroke="#666" stroke-width="0.9"/>
</g>
<rect x="38.0" y="172.45" width="219.3" height="135.9" fill="none" stroke="#6e6e6e" stroke-width="1.15"/>
<path d="M49 308.35v-1.2M49 172.45v1.2M59.9 308.35v-1.2M59.9 172.45v1.2M70.9 308.35v-1.2M70.9 172.45v1.2M81.9 308.35v-1.5M81.9 172.45v1.5M92.8 308.35v-1.2M92.8 172.45v1.2M103.8 308.35v-1.2M103.8 172.45v1.2M114.8 308.35v-1.2M114.8 172.45v1.2M125.7 308.35v-1.5M125.7 172.45v1.5M136.7 308.35v-1.2M136.7 172.45v1.2M147.7 308.35v-1.2M147.7 172.45v1.2M158.6 308.35v-1.2M158.6 172.45v1.2M169.6 308.35v-1.5M169.6 172.45v1.5M180.5 308.35v-1.2M180.5 172.45v1.2M191.5 308.35v-1.2M191.5 172.45v1.2M202.5 308.35v-1.2M202.5 172.45v1.2M213.4 308.35v-1.5M213.4 172.45v1.5M224.4 308.35v-1.2M224.4 172.45v1.2M235.4 308.35v-1.2M235.4 172.45v1.2M246.3 308.35v-1.2M246.3 172.45v1.2M38.00 302.4h1.2M257.30 302.4h-1.2M38.00 296.3h1.5M257.30 296.3h-1.5M38.00 290.1h1.2M257.30 290.1h-1.2M38.00 284h1.2M257.30 284h-1.2M38.00 277.8h1.2M257.30 277.8h-1.2M38.00 271.7h1.5M257.30 271.7h-1.5M38.00 265.5h1.2M257.30 265.5h-1.2M38.00 259.4h1.2M257.30 259.4h-1.2M38.00 253.2h1.2M257.30 253.2h-1.2M38.00 247.1h1.5M257.30 247.1h-1.5M38.00 240.9h1.2M257.30 240.9h-1.2M38.00 234.8h1.2M257.30 234.8h-1.2M38.00 228.6h1.2M257.30 228.6h-1.2M38.00 222.5h1.5M257.30 222.5h-1.5M38.00 216.3h1.2M257.30 216.3h-1.2M38.00 210.2h1.2M257.30 210.2h-1.2M38.00 204h1.2M257.30 204h-1.2M38.00 197.9h1.5M257.30 197.9h-1.5M38.00 191.7h1.2M257.30 191.7h-1.2M38.00 185.6h1.2M257.30 185.6h-1.2M38.00 179.4h1.2M257.30 179.4h-1.2M38.00 173.3h1.5M257.30 173.3h-1.5" stroke="#3a3a3a" stroke-width="0.9" fill="none"/>
<circle cx="168.2" cy="187.0" r="1.9" fill="#86b400"/>
<path d="M165.2 200.8h6.5" stroke="#f8533f" stroke-width="1.1"/>
<path d="M165.2 215.3h6.5" stroke="#555555" stroke-width="1.2"/>
<clipPath id="c3"><rect x="319.8" y="172.45" width="219.3" height="135.9"/></clipPath>
<g clip-path="url(#c3)">
<g fill="none" stroke="#ff4a4a" stroke-opacity="0.42" stroke-width="1"><path d="M319.8 282.6l1.4-.2 .6-1.1 .4-2.5 .5-7.1"/><path d="M322.7 271.7l.7 9.2 .4 1.4 .8 .6"/><path d="M324.6 282.9l.8-.1 .7-.4 .9-1.6 .9-3.2 .6-4.8 .6-9.8 .4-15.9 1-80"/><path d="M330.5 167.1l.9 72.2 .7 24.6 .5 7.8 .7 5.1 1 3 .6 .9 .9 .7 1 .4 1.4 .2"/><path d="M338.2 282l3.5-.3"/><path d="M341.7 281.7l3.6 .2"/><path d="M345.3 281.9l2.6-.1 1.2-.4 .9-.5 .6-.9 .5-1.2 .8-4.3 .5-8 1-42.4"/><path d="M353.4 224.1l.7 37.3 .7 12.6 .5 3.8 .7 2.4 1 1.4 1.7 .9 1.3 .2 2.1 .1"/><path d="M362.1 282.8l2.1-.1 1.4-.2 .8-.4 .5-.7 .9-3.7"/><path d="M367.8 277.7l.7 2.3 .4 .6"/><path d="M368.9 280.6l.3 0 .4-.4 .6-1.6 .5-4.1 .4-7 .9-38.4"/><path d="M372 229.1l.7 33.6 .5 11.6 .4 3.5 .6 2.3 .9 1.4 1.3 .7 2.6 .4"/><path d="M379 282.6l2.3-.1 3-.3 1.4-.7 .6-.8 .4-1.3 .9-6.7"/><path d="M387.6 272.7l.8 6.6 .5 1.3 .6 .7 1.8 .3"/><path d="M391.3 281.6l5.3-.4 1.7-.7 1.1-1.3 .5-1.4 .4-2 .6-6.3 1.1-35.2"/><path d="M402 234.3l.9 29.5 .5 9.8 .5 3.3 .6 2.1 .9 1.3 1.3 .9 2.4 .4"/><path d="M409.1 281.6l2.3-.3 1.2-.8 .8-1.5 .5-2.4 .4-3.7 .9-18.5"/><path d="M415.2 254.4l.8 16.9 .6 6 .4 1.9 .6 1.3 .9 .8 1.2 .5 1.5 .2"/><path d="M421.2 282l1.4 0 .8-.3 1.2-.8"/><path d="M424.6 280.9l1.6 1.2 1.6 .4 5.8 .4"/><path d="M433.6 282.9l3.5-.2 1.1-.5 .8-.8 .5-1.2 .8-2.6 .3-.4"/><path d="M440.6 277.2l.3 .5 1.2 3.4 .5 .8 .6 .6 1.1 .4 1.6 .2"/><path d="M445.9 283.1l1.9-.1 1.4-.4 .7-.5 .5-.7 .8-2.4 1.3-13.8"/><path d="M452.5 265.2l.9 10.9 .6 3.7 .4 1.3 .6 .9 .7 .6 1.1 .4 3.1 .1"/><path d="M459.9 283.1l1.2-.2 .9-.5 .9-1.3 1.1-3.4 .3-.5"/><path d="M464.3 277.2l.3 .5 1.1 3.5 .5 .8 .6 .5 1.1 .5 1.5 .1"/><path d="M469.4 283.1l1.6-.1 1.3-.4 1.1-.7 .8-1.2 .6-1.7 .8-3.7 .3-.7"/><path d="M475.9 274.6l.4 .7 1 4.2 .6 1.5 1.1 1.1 1.6 .6 2.5 .1"/><path d="M483.1 282.8l1.5-.1 1-.3 1.5-.9"/><path d="M487.1 281.5l1.7 1.1 1.3 .4 2.9 .1"/><path d="M493 283.1l2.4-.3 1.1-.4 .8-.8 1.5-3.5 .4-.4"/><path d="M499.2 277.7l.4 .5 1.2 3 1.1 1.2 .9 .4 1.2 .3"/><path d="M504 283.1l3.2-.1 1.3-.4 1-.9 .7-1.3 .9-2.8 .4-.4"/><path d="M511.5 277.2l.3 .5 1 2.8 .7 1.3 .9 .9 1.3 .5 2.8 .5 5 .2 15.6 .3"/></g>
<path d="M319.8 282.9h0m.2 .8h0m.2-1.1h0m.3 .1h0m.2 .4h0m.2-1.1h0m.2 .3h0m.2 .3h0m.3-.3h0m.2 0h0m.2-1.8h0m.2-3.3h0m.2-2.3h0m.3-3.4h0m.2 3.3h0m.2 3.1h0m.2 2.4h0m.2 1.4h0m.2 1.6h0m.3-.5h0m.2-.8h0m.2 1h0m.2-.5h0m.2 .7h0m.3 .9h0m.2-1.5h0m.2 0h0m.2 .5h0m.2-.3h0m.3-.6h0m.2 .3h0m.2-.9h0m.2-.2h0m.2 .7h0m.3-1.9h0m.2-.5h0m.2-.8h0m.2-1.8h0m.2-.9h0m.3-2.3h0m.2-2.5h0m.2-2.7h0m.2-3.5h0m.2-6.3h0m.2-8.9h0m.3-11.7h0m.2-16.9h0m.2-22h0m.2-22.2h0m.2-10.1h0m.3 10h0m.2 22.2h0m.2 21.8h0m.2 16.8h0m.2 12h0m.3 9h0m.2 5.1h0m.2 4.6h0m.2 1.8h0m.2 2.1h0m.3 1.6h0m.2 1.8h0m.2 1.6h0m.2 .1h0m.2 1.3h0m.3 .1h0m.2 1.3h0m.2 .2h0m.2-.3h0m.2-.5h0m.3 1.3h0m.2-1.2h0m.2-.1h0m.2 2.5h0m.2-.7h0m.2 .7h0m.3-.4h0m.2 .3h0m.2-.2h0m.2-.6h0m.2 0h0m.3 .5h0m.2 .1h0m.2 0h0m.2 0h0m.2-.3h0m.3 .4h0m.2-.3h0m.2 1.1h0m.2-1.3h0m.2-.6h0m.3 .9h0m.2 1h0m.2-1.8h0m.2 1h0m.2 1.6h0m.3-1.7h0m.2-.5h0m.2 .1h0m.2-.6h0m.2 .4h0m.2 .3h0m.3 1.3h0m.2-.5h0m.2-.7h0m.2-.3h0m.2 1h0m.3-.2h0m.2-.7h0m.2 1.5h0m.2 .1h0m.2-1.1h0m.3-.3h0m.2 .5h0m.2 1.1h0m.2-1.4h0m.2 .8h0m.3-1.2h0m.2 .5h0m.2-.2h0m.2-.3h0m.2 .7h0m.3-.8h0m.2-.3h0m.2 .5h0m.2-.5h0m.2 1.1h0m.3-.9h0m.2 .3h0m.2 .7h0m.2-.5h0m.2 .2h0m.2-.1h0m.3-.4h0m.2-.7h0m.2 .7h0m.2-.4h0m.2 .7h0m.3-1.1h0m.2-.8h0m.2-.1h0m.2-.2h0m.2 0h0m.3-.4h0m.2-1.3h0m.2-.5h0m.2-1.7h0m.2-3.3h0m.3-2.6h0m.2-6.4h0m.2-6.9h0m.2-12.3h0m.2-13h0m.3-7.1h0m.2 7.1h0m.2 13.2h0m.2 11.8h0m.2 8.2h0m.2 4.9h0m.3 3h0m.2 3.3h0m.2 .9h0m.2 1.6h0m.2 .9h0m.3-.5h0m.2 2.9h0m.2-.4h0m.2 1h0m.2-.6h0m.3 .2h0m.2-2.2h0m.2 2.2h0m.2-.7h0m.2 .4h0m.3 1.2h0m.2-.5h0m.2-.6h0m.2 1h0m.2 0h0m.3-.1h0m.2 1.3h0m.2-.4h0m.2-.7h0m.2-.1h0m.3 .9h0m.2-.3h0m.2-.1h0m.2 0h0m.2-.5h0m.2 .4h0m.3-.1h0m.2 1h0m.2-.2h0m.2-.9h0m.2 1.2h0m.3-1.1h0m.2 .5h0m.2 .1h0m.2-.9h0m.2 .8h0m.3 .1h0m.2-.1h0m.2-.5h0m.2-1.6h0m.2 2.9h0m.3-1.3h0m.2 .1h0m.2-.8h0m.2 .8h0m.2 1.2h0m.3-2.4h0m.2 1.4h0m.2-.8h0m.2 .6h0m.2-.5h0m.2-.7h0m.3-1.5h0m.2-.9h0m.2-.4h0m.2-1.3h0m.2 .9h0m.3 .8h0m.2 .8h0m.2 .1h0m.2 .9h0m.2-.3h0m.3-.4h0m.2-.2h0m.2 .1h0m.2-2h0m.2 .3h0m.3-1.9h0m.2-1.5h0m.2-3.2h0m.2-3h0m.2-8.6h0m.3-10.1h0m.2-13.4h0m.2-7.7h0m.2 6.9h0m.2 14h0m.3 11.5h0m.2 6.8h0m.2 3.6h0m.2 4.1h0m.2 1.2h0m.2 1.4h0m.3-.4h0m.2 1.9h0m.2-.3h0m.2 1.5h0m.2 .4h0m.3-.8h0m.2 .4h0m.2 1.5h0m.2-1.2h0m.2 .1h0m.3 .8h0m.2-.4h0m.2 0h0m.2 .6h0m.2 .1h0m.3 .1h0m.2-.2h0m.2 .6h0m.2-.7h0m.2 .9h0m.3-.9h0m.2 .1h0m.2 .6h0m.2-1.1h0m.2-.7h0m.2 .4h0m.3 1.6h0m.2-1.6h0m.2 .6h0m.2 .2h0m.2 .3h0m.3-.4h0m.2-.8h0m.2 .5h0m.2 .5h0m.2 .2h0m.3-.2h0m.2-.6h0m.2-.8h0m.2 1.8h0m.2-.7h0m.3 .2h0m.2 .2h0m.2-.7h0m.2-.1h0m.2 1.1h0m.3-.2h0m.2-1.4h0m.2 .5h0m.2-.2h0m.2 .6h0m.3-.1h0m.2-.6h0m.2 .5h0m.2 .3h0m.2-.8h0m.2-.8h0m.3 .9h0m.2-1.6h0m.2-.5h0m.2-.1h0m.2-1.8h0m.3-.6h0m.2 .3h0m.2 1.2h0m.2 2h0m.2 .7h0m.3-1h0m.2 .8h0m.2-.1h0m.2 .2h0m.2-.7h0m.3 1.7h0m.2-1.4h0m.2 1.2h0m.2-.9h0m.2-.4h0m.3 1.6h0m.2-1.1h0m.2 .4h0m.2 0h0m.2-.2h0m.2 .7h0m.3-.1h0m.2-1h0m.2-.2h0m.2 .9h0m.2 .5h0m.3-2.3h0m.2 .7h0m.2 .4h0m.2 .9h0m.2-.3h0m.3-.5h0m.2 .7h0m.2-1.6h0m.2 .9h0m.2-.2h0m.3 .9h0m.2-.1h0m.2-.1h0m.2-.7h0m.2 .3h0m.3 0h0m.2-.4h0m.2 0h0m.2-.8h0m.2 .9h0m.3 .4h0m.2-.7h0m.2-1h0m.2 1h0m.2-.5h0m.2 .1h0m.3-.7h0m.2-.2h0m.2 .2h0m.2-.8h0m.2-1.3h0m.3-.8h0m.2-1h0m.2-1.5h0m.2-1.5h0m.2-3.1h0m.3-5.1h0m.2-6h0m.2-9.7h0m.2-9.4h0m.2-5.1h0m.3 4.8h0m.2 10.1h0m.2 8.7h0m.2 7.2h0m.2 4.5h0m.3 3.1h0m.2 2.4h0m.2 .4h0m.2 2.1h0m.2 .4h0m.2 1.5h0m.3 0h0m.2 .3h0m.2 .3h0m.2 .4h0m.2-.2h0m.3-.6h0m.2 1.1h0m.2 .1h0m.2 .3h0m.2-1.7h0m.3 .7h0m.2 .7h0m.2-.1h0m.2 .9h0m.2-.3h0m.3-.1h0m.2 0h0m.2 .7h0m.2-.1h0m.2-.7h0m.3 .1h0m.2 1.5h0m.2-1.4h0m.2-.7h0m.2 1.2h0m.3-.6h0m.2 1h0m.2-1.4h0m.2 1.1h0m.2 .1h0m.2-.6h0m.3-1.7h0m.2 1.7h0m.2 .3h0m.2-1.2h0m.2 0h0m.3-1.1h0m.2 1.5h0m.2-.2h0m.2-1.2h0m.2-1h0m.3-.9h0m.2-1.6h0m.2-.5h0m.2-3.1h0m.2-4.2h0m.3-5.8h0m.2-5.6h0m.2-2.5h0m.2 3h0m.2 5.1h0m.3 5.4h0m.2 3.1h0m.2 4h0m.2 1h0m.2 2.7h0m.2 .5h0m.3 .7h0m.2 .4h0m.2 .6h0m.2 .1h0m.2-.1h0m.3 .5h0m.2-.5h0m.2 .5h0m.2 .1h0m.2-.8h0m.3 .8h0m.2 .1h0m.2 .2h0m.2 0h0m.2-.3h0m.3 .9h0m.2-1.2h0m.2-.2h0m.2 .2h0m.2 1.1h0m.3 .6h0m.2-.7h0m.2-.3h0m.2-.5h0m.2 .6h0m.3 .1h0m.2-1.2h0m.2 1.3h0m.2-1.2h0m.2 0h0m.2 1.2h0m.3-1.2h0m.2 .3h0m.2 .1h0m.2 .5h0m.2-.1h0m.3-1h0m.2 .7h0m.2-.1h0m.2 .9h0m.2-.2h0m.3 .1h0m.2 .8h0m.2 .2h0m.2-1.2h0m.2 .2h0m.3 .7h0m.2-.4h0m.2-.5h0m.2-.6h0m.2 1.6h0m.3-.9h0m.2-.8h0m.2 1.2h0m.2-.8h0m.2 2.5h0m.3-2.5h0m.2 .9h0m.2 1.2h0m.2-1.6h0m.2-.2h0m.2 0h0m.3 0h0m.2 .7h0m.2 .5h0m.2-.2h0m.2-.2h0m.3-.3h0m.2 .6h0m.2-.4h0m.2-.5h0m.2 .4h0m.3-1.2h0m.2 .1h0m.2 2h0m.2-.4h0m.2 .5h0m.3-.1h0m.2-1h0m.2 .9h0m.2 0h0m.2-.4h0m.3-.7h0m.2 .7h0m.2 0h0m.2-.8h0m.2 .3h0m.2-.1h0m.3-.3h0m.2 1.2h0m.2-.8h0m.2 .5h0m.2-1.1h0m.3 .1h0m.2 1h0m.2-1.5h0m.2 1.3h0m.2-1.5h0m.3 .3h0m.2 .4h0m.2-.2h0m.2-.9h0m.2-.7h0m.3-.3h0m.2-1.5h0m.2 .3h0m.2-1.3h0m.2-.3h0m.3 1.2h0m.2-.5h0m.2 1.6h0m.2 1.5h0m.2-.3h0m.3 .3h0m.2-.2h0m.2 1.2h0m.2-.9h0m.2 .3h0m.2 .3h0m.3 0h0m.2 .7h0m.2 .7h0m.2-.7h0m.2-.1h0m.3 .5h0m.2 .3h0m.2 .9h0m.2-1.3h0m.2 .2h0m.3 1h0m.2-.8h0m.2-.4h0m.2 .5h0m.2-.5h0m.3 0h0m.2 1.3h0m.2-.7h0m.2-.5h0m.2-.3h0m.3-.3h0m.2 2h0m.2-1.2h0m.2-.5h0m.2-.4h0m.2-.3h0m.3 1.5h0m.2-.5h0m.2 .3h0m.2-1.2h0m.2 1h0m.3-1.7h0m.2-.1h0m.2-.2h0m.2 1h0m.2-1.6h0m.3-1.7h0m.2-.3h0m.2-2.6h0m.2-2.7h0m.2-3.7h0m.3-2.8h0m.2-1.4h0m.2 1.6h0m.2 3h0m.2 3.3h0m.3 2.3h0m.2 2.4h0m.2 .7h0m.2 2.5h0m.2-.9h0m.3 1.3h0m.2-.3h0m.2 .9h0m.2-.2h0m.2-.2h0m.2 1.3h0m.3-.2h0m.2 .2h0m.2-.1h0m.2 1.2h0m.2-.8h0m.3 .1h0m.2 .3h0m.2-.3h0m.2 .8h0m.2-1.7h0m.3 .6h0m.2-.9h0m.2 1.7h0m.2 .2h0m.2-.9h0m.3 1.2h0m.2-1.2h0m.2 .6h0m.2-.2h0m.2-.4h0m.3 .1h0m.2-1.2h0m.2 .7h0m.2 1.2h0m.2-1.5h0m.2 1.3h0m.3-.9h0m.2 .7h0m.2-.4h0m.2-1.5h0m.2 .9h0m.3-.2h0m.2-.4h0m.2-.6h0m.2-1.6h0m.2 .7h0m.3-.8h0m.2-1.7h0m.2 .5h0m.2-.9h0m.2-.5h0m.3 1.2h0m.2 1.1h0m.2 .9h0m.2 .8h0m.2 .4h0m.3 .1h0m.2-.3h0m.2 .4h0m.2 1.1h0m.2 .3h0m.3-.7h0m.2 1.6h0m.2-.7h0m.2 0h0m.2 .5h0m.2 0h0m.3-.7h0m.2 1.2h0m.2-.4h0m.2-.2h0m.2-.4h0m.3 .9h0m.2-1.5h0m.2 .9h0m.2-.1h0m.2 .1h0m.3 .1h0m.2 .2h0m.2-1.3h0m.2 .5h0m.2 .2h0m.3-.8h0m.2 1h0m.2-.9h0m.2 .3h0m.2 .5h0m.3-1.1h0m.2 1.2h0m.2-1.5h0m.2 .7h0m.2-.9h0m.2-.9h0m.3 .1h0m.2 .2h0m.2-.8h0m.2-.5h0m.2-.4h0m.3-1h0m.2-1.6h0m.2-1.2h0m.2 .3h0m.2-1.1h0m.3 0h0m.2 .9h0m.2 1.5h0m.2 .1h0m.2 2h0m.3-.1h0m.2 .1h0m.2 2.5h0m.2-.8h0m.2 .3h0m.3 .3h0m.2 .8h0m.2-.1h0m.2 .8h0m.2-.8h0m.3-.1h0m.2 .8h0m.2 .2h0m.2-.2h0m.2-.2h0m.2 0h0m.3 .1h0m.2-.1h0m.2 .9h0m.2 .8h0m.2-2h0m.3-.4h0m.2 1.7h0m.2-.5h0m.2-.5h0m.2-.4h0m.3 .2h0m.2-.4h0m.2 .8h0m.2-.3h0m.2 0h0m.3 .5h0m.2-1h0m.2 .3h0m.2-.2h0m.2 .8h0m.3-1h0m.2 1.2h0m.2-.9h0m.2 1.6h0m.2-1.1h0m.2-1.2h0m.3 .6h0m.2-.6h0m.2 1h0m.2-1.9h0m.2 .6h0m.3 .5h0m.2-.1h0m.2 .2h0m.2-.4h0m.2 .8h0m.3 1.2h0m.2-.6h0m.2-.9h0m.2 .5h0m.2 .7h0m.3-.6h0m.2 .4h0m.2-.3h0m.2 1.3h0m.2-.3h0m.3-1h0m.2 .6h0m.2-.3h0m.2-1h0m.2 1.4h0m.3-.3h0m.2 .4h0m.2 .1h0m.2-.4h0m.2 .9h0m.2 .4h0m.3-2.1h0m.2 .8h0m.2-.7h0m.2 .6h0m.2-.1h0m.3-.3h0m.2-.1h0m.2 1.1h0m.2-1.4h0m.2 1.2h0m.3-.7h0m.2-1.5h0m.2 1.4h0m.2-1h0m.2 1h0m.3-.7h0m.2 .2h0m.2-.4h0m.2 .5h0m.2-.3h0m.3-1.1h0m.2 .6h0m.2-.9h0m.2-1.4h0m.2 0h0m.2-.4h0m.3-.3h0m.2-.8h0m.2 .4h0m.2 .2h0m.2 .7h0m.3-.4h0m.2 1.8h0m.2 1.3h0m.2-.6h0m.2 .4h0m.3 .2h0m.2 1.3h0m.2-1.4h0m.2 .8h0m.2 .2h0m.3 1h0m.2-1.1h0m.2 .4h0m.2-.8h0m.2 1.1h0m.3 .6h0m.2-.8h0m.2 .6h0m.2-.7h0m.2 .9h0m.3-.6h0m.2 .1h0m.2-.1h0m.2 .3h0m.2 .2h0m.2-.5h0m.3 .3h0m.2-.4h0m.2 .2h0m.2 1.2h0m.2-1.3h0m.3-.9h0m.2 .6h0m.2-.2h0m.2 0h0m.2 .5h0m.3 .4h0m.2-1.3h0m.2-.2h0m.2 .1h0m.2 0h0m.3-.2h0m.2 0h0m.2-.4h0m.2-.2h0m.2-.6h0m.3 .2h0m.2-.8h0m.2-1.2h0m.2-.3h0m.2 .4h0m.2-1.7h0m.3 1h0m.2-1.8h0m.2 1h0m.2 .7h0m.2 1.3h0m.3 .9h0m.2 .2h0m.2 .3h0m.2 .9h0m.2-.2h0m.3 0h0m.2 .3h0m.2 1.1h0m.2 .8h0m.2-1.1h0m.3 .5h0m.2-.5h0m.2-.6h0m.2 .1h0m.2 .8h0m.3-.4h0m.2-.3h0m.2 1h0m.2-.1h0m.2-.3h0m.3 .6h0m.2 .3h0m.2 .1h0m.2-.4h0m.2 .4h0m.2-.8h0m.3 .7h0m.2-1.1h0m.2 .2h0m.2 1.5h0m.2-1.4h0m.3 .9h0m.2-1h0m.2 .5h0m.2 .3h0m.2-.4h0m.3 .8h0m.2-.5h0m.2-.1h0m.2 .4h0m.2-.3h0m.3 .8h0m.2-.9h0m.2 1h0m.2-1h0m.2 .1h0m.3-.2h0m.2 .8h0m.2-2.1h0m.2 1.9h0m.2-.2h0m.2 .5h0m.3-1.2h0m.2 1.1h0m.2-.9h0m.2 1.2h0m.2-.7h0m.3 .4h0m.2-.8h0m.2 .7h0m.2 .4h0m.2-.8h0m.3 1h0m.2-.1h0m.2-1h0m.2 1.5h0m.2-1.5h0m.3 .7h0m.2 .3h0m.2-.7h0m.2-.2h0m.2 .7h0m.3-.2h0m.2-.6h0m.2 0h0m.2 .5h0m.2 .4h0m.3 .1h0m.2-.2h0m.2-.7h0m.2 0h0m.2 .2h0m.2-.6h0m.3 1h0m.2 0h0m.2 0h0m.2-1.3h0m.2 2.3h0m.3-1.4h0m.2-.1h0m.2 .3h0m.2-1.4h0m.2 .7h0m.3 .3h0m.2 .9h0m.2-.8h0m.2 .5h0m.2-.2h0m.3-.1h0m.2 .4h0m.2-.7h0m.2-.5h0m.2 .3h0m.3 .5h0m.2 1.2h0m.2-1.7h0m.2 0h0m.2 .7h0m.2 .2h0m.3-.7h0m.2 .9h0m.2-.9h0m.2 1.1h0m.2-.1h0m.3-.6h0m.2 .9h0m.2-.9h0m.2-.3h0m.2 1.1h0m.3-1.3h0m.2 .9h0m.2-.7h0" fill="none" stroke="#86b400" stroke-width="1.3" stroke-linecap="round"/>
<path d="M319.8 294.8l.7-.7 .2 0 2.8 .4 .7-.3 .4 .1 .7-.2 .6 .4 .7-.4 .4 .3 .7-.2 1.3 .3 .4 .3 .5 1.3 .4 4.7 .5-12.6 .4 4.7 .4 1 .7 .5 .4 .1 .9-.6 .2 0 .5 .4 .6-.3 .9 .3 .7 .5 .4-.3 .2-.1 .2 .3 .3 0 .4-.5 1.5 .3 .7-.2 .4 .2 .7-.4 1.1 .2 1.1-.2 .9 .5 .4-.3 .7 .1 .6-.4 .7 .3 .4-.1 .7 .2 1.3-.5 .9 0 .8 .7 .5 0 .4-.2 .5 .1 .4 .8 .4 2.8 .5-5.1 .6 1.3 .5 .3 1.3-.9 .9 .9 1.3-.1 .6 0 .5-.3 .9 .5 .4-.3 .4 0 .7-.2 .2 .3 .4 .2 .7-.8 .7 .6 1.1-.1 .6-.4 .2 0 .5 .1 .6 .5 .5-.1 .6 .4 .7-.3 .6-.2 1.6 .2 .4 .2 .2 .4 .7 3.9 .7-3.9 .2-.3 .4-.1 1.5-1.1 .3 .1 .4 .9 .2 .1 .5-.3 .8 .3 .5-.1 .4-.3 .7 0 .6-.4 .5 .3 .4-.1 .7 .7 .2 0 .4-.5 .9-.5 .9 .9 .6-1 .3 0 1.1 .8 .2 0 .6-.7 .5 .5 .8 1.4 .5-3.3 .4 .9 1.8 1.2 .4-.4 .5 .4 .2 0 .4-.5 1.3 .4 .7-.4 .9 .1 .2-.1 .6 .2 .5-.2 .6 .6 .7-.6 .4 0 .7 .6 .6-.6 .9 .9 1.6-1.6 .6-2.8 .5 6.7 .6-2.3 .7-.8 .4 .2 .7-.1 .6 .3 .9-.2 .7 .2 1.3-.3 .6-.7 .7 .5 .7-.3 .4 .3 .9-.1 1.1-.4 .6 .3 .7-.3 .4-1 .2-1.1 .7-4.9 .7 5.1 .4 1.3 .4 .4 1.6 .5 .4 .1 .7-.1 .4 .3 .7 0 .4 .4 .7-.6 .6 .4 .7 .1 .6-.2 .7 .3 1.3-.4 .4 .3 .7-.2 .4 .2 1.6-.6 .6 .6 .9 .5 .2 0 .7-.8 1.5-.1 .7 .5 .6-.6 .5-.1 .4 0 1.8 .8 1.3-.8 1.1 .6 .4-.3 1.8 .4 .6-.2 .7 .2 .9-.2 .6-.4 .9 .1 .4-.4 .7 .3 .7-.3 .8 .1 .3 .2 .8-.1 1.1 .6 .7-.2 .6 0 1.1-1.3 .3 .3 .4 2.4 .2 0 1.1-1.4 .9-.2 .4 .2 .5-.3 1.1 .4 .6-.2 .9 .6 .9-.6 1.5 0 .7 .3 1.1-.6 .6 .7 .7-.3 .6 .2 .9-.6 .9 .7 .7-.5 1.3 .1 .6-.3 .9 .7 .4 .1 .5-.4 .6-.2 .7-.4 1.7 .8 1.1-.1 .7-.5 .4 .3 .7 0 .2 .3 .5 .1 .6-.6 .7 .2 .4-.1 1.5 .5 .9-.8 .2 0 .5 .3 .4-.2 .2 .1 .5 .6 .6-.1 .7 .3 .7-.7 .2 0 .6 .6 .2 0 .7-.8 .7 .5 .4 0 .4 .2 .5-.2 .6 .4 .7-.2 .7 .1 .2-.2 1.1 .1 .6-.3 .2 .2 .7-.3 .7 .2 .6-.2 1.1 .5 1.1-.6 .7 .4 .4 0 .4-.1 .5-.4 .4 0 .7-.3 .9 .6 1.9 .4 .7-.5 .7 0 .6-.3 .9 .5 .4 0 .9-.2 .7-.6 .8 .9 .7-.2 .4 .2 .7-.5 .6 .5 .5 .1 .2-.2 .7 .3 .8-.5 .7 .3 .4-.3 1.4 .3 .2 .3 1.1-.2 .6-1 .2 0 .7 1 .9 .2 .9-.6 .8 .4 .5 0 .4-.5 .7-.2 .2 .1 .4 .5 .2 0 .7-.6 .7 .8 .4 .2 1.3-.5 1.8-.3 .9 0 .6 .5 1.1-.3 .7-.4 1.1 .5 .6 .5 .7-.6 .9 .1 .8 .4 .7-.1 .6-.4 .7 .3 .7-.8 .4 .3" fill="none" stroke="#666" stroke-width="0.9"/>
</g>
<rect x="319.8" y="172.45" width="219.3" height="135.9" fill="none" stroke="#6e6e6e" stroke-width="1.15"/>
<path d="M330.8 308.35v-1.2M330.8 172.45v1.2M341.7 308.35v-1.2M341.7 172.45v1.2M352.7 308.35v-1.2M352.7 172.45v1.2M363.7 308.35v-1.5M363.7 172.45v1.5M374.6 308.35v-1.2M374.6 172.45v1.2M385.6 308.35v-1.2M385.6 172.45v1.2M396.6 308.35v-1.2M396.6 172.45v1.2M407.5 308.35v-1.5M407.5 172.45v1.5M418.5 308.35v-1.2M418.5 172.45v1.2M429.5 308.35v-1.2M429.5 172.45v1.2M440.4 308.35v-1.2M440.4 172.45v1.2M451.4 308.35v-1.5M451.4 172.45v1.5M462.3 308.35v-1.2M462.3 172.45v1.2M473.3 308.35v-1.2M473.3 172.45v1.2M484.3 308.35v-1.2M484.3 172.45v1.2M495.2 308.35v-1.5M495.2 172.45v1.5M506.2 308.35v-1.2M506.2 172.45v1.2M517.2 308.35v-1.2M517.2 172.45v1.2M528.1 308.35v-1.2M528.1 172.45v1.2M319.80 302.4h1.2M539.10 302.4h-1.2M319.80 296.3h1.5M539.10 296.3h-1.5M319.80 290.1h1.2M539.10 290.1h-1.2M319.80 284h1.2M539.10 284h-1.2M319.80 277.8h1.2M539.10 277.8h-1.2M319.80 271.7h1.5M539.10 271.7h-1.5M319.80 265.5h1.2M539.10 265.5h-1.2M319.80 259.4h1.2M539.10 259.4h-1.2M319.80 253.2h1.2M539.10 253.2h-1.2M319.80 247.1h1.5M539.10 247.1h-1.5M319.80 240.9h1.2M539.10 240.9h-1.2M319.80 234.8h1.2M539.10 234.8h-1.2M319.80 228.6h1.2M539.10 228.6h-1.2M319.80 222.5h1.5M539.10 222.5h-1.5M319.80 216.3h1.2M539.10 216.3h-1.2M319.80 210.2h1.2M539.10 210.2h-1.2M319.80 204h1.2M539.10 204h-1.2M319.80 197.9h1.5M539.10 197.9h-1.5M319.80 191.7h1.2M539.10 191.7h-1.2M319.80 185.6h1.2M539.10 185.6h-1.2M319.80 179.4h1.2M539.10 179.4h-1.2M319.80 173.3h1.5M539.10 173.3h-1.5" stroke="#3a3a3a" stroke-width="0.9" fill="none"/>
<circle cx="444.5" cy="187.0" r="1.9" fill="#86b400"/>
<path d="M441.5 200.8h6.5" stroke="#f8533f" stroke-width="1.1"/>
<path d="M441.5 215.3h6.5" stroke="#555555" stroke-width="1.2"/>
<g style="filter:grayscale(1)"><text x="36.4" y="132.3" font-size="10" text-anchor="end">0.0</text><text x="36.4" y="107.7" font-size="10" text-anchor="end">0.2</text><text x="36.4" y="83.1" font-size="10" text-anchor="end">0.4</text><text x="36.4" y="58.5" font-size="10" text-anchor="end">0.6</text><text x="36.4" y="33.9" font-size="10" text-anchor="end">0.8</text><text x="36.4" y="9.3" font-size="10" text-anchor="end">1.0</text><text x="38.0" y="152.8" font-size="10" text-anchor="middle">20</text><text x="81.9" y="152.8" font-size="10" text-anchor="middle">40</text><text x="125.7" y="152.8" font-size="10" text-anchor="middle">60</text><text x="169.6" y="152.8" font-size="10" text-anchor="middle">80</text><text x="213.4" y="152.8" font-size="10" text-anchor="middle">100</text><text x="257.3" y="152.8" font-size="10" text-anchor="middle">120</text><text x="150.6" y="164.9" font-size="13" text-anchor="middle">2<tspan font-style="italic">θ</tspan> (°)</text><text transform="translate(16.4,72.1) rotate(-90)" font-size="13" text-anchor="middle">Normalized Intensity</text><text x="175" y="21.9" font-size="10.5">Sn13M</text><text x="175" y="35.9" font-size="10.5" textLength="45.8" lengthAdjust="spacingAndGlyphs">Rietveld Fit</text><text x="175" y="50.6" font-size="10.5" textLength="17.2" lengthAdjust="spacingAndGlyphs">Diff.</text><text x="250.3" y="70.2" font-size="12.5" text-anchor="end">420 K</text><text x="318.2" y="132.3" font-size="10" text-anchor="end">0.0</text><text x="318.2" y="107.7" font-size="10" text-anchor="end">0.2</text><text x="318.2" y="83.1" font-size="10" text-anchor="end">0.4</text><text x="318.2" y="58.5" font-size="10" text-anchor="end">0.6</text><text x="318.2" y="33.9" font-size="10" text-anchor="end">0.8</text><text x="318.2" y="9.3" font-size="10" text-anchor="end">1.0</text><text x="319.8" y="152.8" font-size="10" text-anchor="middle">20</text><text x="363.7" y="152.8" font-size="10" text-anchor="middle">40</text><text x="407.5" y="152.8" font-size="10" text-anchor="middle">60</text><text x="451.4" y="152.8" font-size="10" text-anchor="middle">80</text><text x="495.2" y="152.8" font-size="10" text-anchor="middle">100</text><text x="539.1" y="152.8" font-size="10" text-anchor="middle">120</text><text x="432.4" y="164.9" font-size="13" text-anchor="middle">2<tspan font-style="italic">θ</tspan> (°)</text><text transform="translate(298.2,72.1) rotate(-90)" font-size="13" text-anchor="middle">Normalized Intensity</text><text x="450" y="21.9" font-size="10.5">Sn13CoM</text><text x="450" y="35.9" font-size="10.5" textLength="45.8" lengthAdjust="spacingAndGlyphs">Rietveld Fit</text><text x="450" y="50.6" font-size="10.5" textLength="17.2" lengthAdjust="spacingAndGlyphs">Diff.</text><text x="534.4" y="70.2" font-size="12.5" text-anchor="end">300 K</text><text x="36.4" y="300.1" font-size="10" text-anchor="end">0.0</text><text x="36.4" y="275.5" font-size="10" text-anchor="end">0.2</text><text x="36.4" y="250.9" font-size="10" text-anchor="end">0.4</text><text x="36.4" y="226.3" font-size="10" text-anchor="end">0.6</text><text x="36.4" y="201.7" font-size="10" text-anchor="end">0.8</text><text x="36.4" y="177.1" font-size="10" text-anchor="end">1.0</text><text x="38.0" y="320.6" font-size="10" text-anchor="middle">20</text><text x="81.9" y="320.6" font-size="10" text-anchor="middle">40</text><text x="125.7" y="320.6" font-size="10" text-anchor="middle">60</text><text x="169.6" y="320.6" font-size="10" text-anchor="middle">80</text><text x="213.4" y="320.6" font-size="10" text-anchor="middle">100</text><text x="257.3" y="320.6" font-size="10" text-anchor="middle">120</text><text x="150.6" y="335.1" font-size="13" text-anchor="middle">2<tspan font-style="italic">θ</tspan> (°)</text><text transform="translate(16.4,241.3) rotate(-90)" font-size="13" text-anchor="middle">Normalized Intensity</text><text x="175" y="189.6" font-size="10.5">Sn13AN</text><text x="175" y="203.0" font-size="10.5" textLength="45.8" lengthAdjust="spacingAndGlyphs">Rietveld Fit</text><text x="175" y="217.5" font-size="10.5" textLength="17.2" lengthAdjust="spacingAndGlyphs">Diff.</text><text x="250.3" y="241.6" font-size="12.5" text-anchor="end">420 K</text><text x="318.2" y="300.1" font-size="10" text-anchor="end">0.0</text><text x="318.2" y="275.5" font-size="10" text-anchor="end">0.2</text><text x="318.2" y="250.9" font-size="10" text-anchor="end">0.4</text><text x="318.2" y="226.3" font-size="10" text-anchor="end">0.6</text><text x="318.2" y="201.7" font-size="10" text-anchor="end">0.8</text><text x="318.2" y="177.1" font-size="10" text-anchor="end">1.0</text><text x="319.8" y="320.6" font-size="10" text-anchor="middle">20</text><text x="363.7" y="320.6" font-size="10" text-anchor="middle">40</text><text x="407.5" y="320.6" font-size="10" text-anchor="middle">60</text><text x="451.4" y="320.6" font-size="10" text-anchor="middle">80</text><text x="495.2" y="320.6" font-size="10" text-anchor="middle">100</text><text x="539.1" y="320.6" font-size="10" text-anchor="middle">120</text><text x="432.4" y="335.1" font-size="13" text-anchor="middle">2<tspan font-style="italic">θ</tspan> (°)</text><text transform="translate(298.2,241.3) rotate(-90)" font-size="13" text-anchor="middle">Normalized Intensity</text><text x="450" y="189.6" font-size="10.5">Sn13CoAN</text><text x="450" y="203.0" font-size="10.5" textLength="45.8" lengthAdjust="spacingAndGlyphs">Rietveld Fit</text><text x="450" y="217.5" font-size="10.5" textLength="17.2" lengthAdjust="spacingAndGlyphs">Diff.</text><text x="534.4" y="241.6" font-size="12.5" text-anchor="end">300 K</text></g>
</svg></body></html>
